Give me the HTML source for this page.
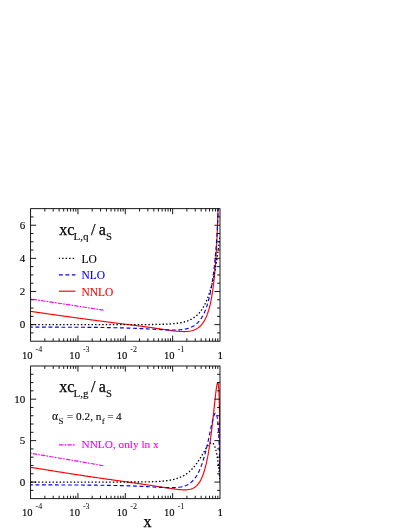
<!DOCTYPE html>
<html><head><meta charset="utf-8"><title>c_L</title>
<style>html,body{margin:0;padding:0;background:#fff}svg{display:block;will-change:transform}text{font-family:"Liberation Serif",serif;paint-order:stroke}</style>
</head><body>
<svg width="409" height="529" viewBox="0 0 409 529">
<rect width="409" height="529" fill="#fff"/>
<defs><clipPath id="c1"><rect x="30.6" y="208.65" width="189.40" height="132.55"/></clipPath><clipPath id="c2"><rect x="30.6" y="366.0" width="189.40" height="132.65"/></clipPath></defs>
<path d="M30.60,311.35 L31.70,311.51 L32.80,311.67 L33.91,311.83 L35.01,311.99 L36.11,312.15 L37.21,312.31 L38.31,312.47 L39.41,312.63 L40.52,312.78 L41.62,312.94 L42.72,313.10 L43.82,313.26 L44.92,313.42 L46.03,313.58 L47.13,313.73 L48.23,313.89 L49.33,314.05 L50.43,314.21 L51.54,314.36 L52.64,314.52 L53.74,314.68 L54.84,314.83 L55.94,314.99 L57.04,315.14 L58.15,315.30 L59.25,315.46 L60.35,315.61 L61.45,315.77 L62.55,315.92 L63.66,316.07 L64.76,316.23 L65.86,316.38 L66.96,316.54 L68.06,316.69 L69.16,316.84 L70.27,317.00 L71.37,317.15 L72.47,317.30 L73.57,317.45 L74.67,317.60 L75.78,317.75 L76.88,317.91 L77.98,318.06 L79.08,318.21 L80.18,318.36 L81.29,318.51 L82.39,318.66 L83.49,318.80 L84.59,318.95 L85.69,319.10 L86.79,319.25 L87.90,319.40 L89.00,319.54 L90.10,319.69 L91.20,319.84 L92.30,319.98 L93.41,320.13 L94.51,320.27 L95.61,320.42 L96.71,320.56 L97.81,320.71 L98.92,320.85 L100.02,321.00 L101.12,321.14 L102.22,321.28 L103.32,321.43 L104.42,321.57 L105.53,321.71 L106.63,321.85 L107.73,321.99 L108.83,322.14 L109.93,322.28 L111.04,322.42 L112.14,322.56 L113.24,322.70 L114.34,322.84 L115.44,322.98 L116.54,323.12 L117.65,323.26 L118.75,323.39 L119.85,323.53 L120.95,323.67 L122.05,323.81 L123.16,323.95 L124.26,324.09 L125.36,324.23 L126.46,324.36 L127.56,324.50 L128.67,324.64 L129.77,324.78 L130.87,324.92 L131.97,325.06 L133.07,325.19 L134.17,325.33 L135.28,325.47 L136.38,325.61 L137.48,325.76 L138.58,325.90 L139.68,326.04 L140.79,326.18 L141.89,326.33 L142.99,326.47 L144.09,326.62 L145.19,326.77 L146.29,326.92 L147.40,327.07 L148.50,327.22 L149.60,327.37 L150.70,327.53 L151.80,327.68 L152.91,327.84 L154.01,328.00 L155.11,328.16 L156.21,328.32 L157.31,328.48 L158.42,328.64 L159.52,328.81 L160.62,328.97 L161.72,329.14 L162.82,329.30 L163.92,329.46 L165.03,329.63 L166.13,329.79 L167.23,329.95 L168.33,330.10 L169.43,330.26 L170.54,330.41 L171.64,330.56 L172.74,330.70 L173.84,330.84 L174.94,330.96 L176.04,331.09 L177.15,331.20 L178.25,331.30 L179.35,331.38 L180.45,331.46 L181.55,331.51 L182.66,331.55 L183.76,331.57 L184.86,331.56 L185.96,331.53 L187.06,331.46 L188.17,331.36 L189.27,331.22 L190.37,331.04 L191.47,330.80 L192.57,330.51 L193.67,330.15 L194.78,329.72 L195.88,329.21 L196.98,328.60 L198.08,327.88 L199.18,327.04 L200.29,326.05 L201.39,324.89 L202.49,323.53 L203.59,321.95 L204.69,320.09 L205.79,317.91 L205.84,317.81 L205.89,317.70 L205.94,317.60 L205.99,317.50 L206.03,317.39 L206.08,317.28 L206.13,317.18 L206.18,317.07 L206.22,316.96 L206.27,316.85 L206.32,316.74 L206.37,316.63 L206.41,316.52 L206.46,316.41 L206.51,316.29 L206.56,316.18 L206.60,316.07 L206.65,315.95 L206.70,315.83 L206.75,315.72 L206.79,315.60 L206.84,315.48 L206.89,315.36 L206.94,315.24 L206.98,315.12 L207.03,314.99 L207.08,314.87 L207.13,314.75 L207.17,314.62 L207.22,314.49 L207.27,314.37 L207.32,314.24 L207.36,314.11 L207.41,313.98 L207.46,313.85 L207.51,313.72 L207.55,313.58 L207.60,313.45 L207.65,313.31 L207.70,313.18 L207.74,313.04 L207.79,312.90 L207.84,312.76 L207.89,312.62 L207.93,312.48 L207.98,312.34 L208.03,312.20 L208.08,312.05 L208.12,311.91 L208.17,311.76 L208.22,311.61 L208.27,311.46 L208.31,311.31 L208.36,311.16 L208.41,311.01 L208.46,310.86 L208.50,310.70 L208.55,310.55 L208.60,310.39 L208.65,310.23 L208.69,310.07 L208.74,309.91 L208.79,309.75 L208.84,309.59 L208.88,309.42 L208.93,309.26 L208.98,309.09 L209.03,308.92 L209.07,308.75 L209.12,308.58 L209.17,308.41 L209.22,308.23 L209.26,308.06 L209.31,307.88 L209.36,307.70 L209.41,307.52 L209.45,307.34 L209.50,307.16 L209.55,306.98 L209.60,306.79 L209.64,306.61 L209.69,306.42 L209.74,306.23 L209.79,306.04 L209.83,305.84 L209.88,305.65 L209.93,305.45 L209.98,305.26 L210.02,305.06 L210.07,304.85 L210.12,304.65 L210.17,304.45 L210.21,304.24 L210.26,304.03 L210.31,303.82 L210.36,303.61 L210.40,303.40 L210.45,303.19 L210.50,302.97 L210.55,302.75 L210.59,302.53 L210.64,302.31 L210.69,302.09 L210.74,301.86 L210.78,301.63 L210.83,301.40 L210.88,301.17 L210.93,300.94 L210.97,300.70 L211.02,300.46 L211.07,300.22 L211.12,299.98 L211.16,299.74 L211.21,299.49 L211.26,299.24 L211.31,298.99 L211.35,298.74 L211.40,298.49 L211.45,298.23 L211.50,297.97 L211.54,297.71 L211.59,297.44 L211.64,297.18 L211.69,296.91 L211.73,296.64 L211.78,296.36 L211.83,296.09 L211.88,295.81 L211.93,295.53 L211.97,295.24 L212.02,294.96 L212.07,294.67 L212.12,294.37 L212.16,294.08 L212.21,293.78 L212.26,293.48 L212.31,293.18 L212.35,292.87 L212.40,292.56 L212.45,292.25 L212.50,291.94 L212.54,291.62 L212.59,291.30 L212.64,290.98 L212.69,290.65 L212.73,290.32 L212.78,289.99 L212.83,289.65 L212.88,289.31 L212.92,288.97 L212.97,288.62 L213.02,288.27 L213.07,287.92 L213.11,287.56 L213.16,287.20 L213.21,286.84 L213.26,286.47 L213.30,286.10 L213.35,285.72 L213.40,285.34 L213.45,284.96 L213.49,284.57 L213.54,284.18 L213.59,283.79 L213.64,283.39 L213.68,282.98 L213.73,282.58 L213.78,282.16 L213.83,281.75 L213.87,281.33 L213.92,280.90 L213.97,280.47 L214.02,280.04 L214.06,279.60 L214.11,279.15 L214.16,278.70 L214.21,278.25 L214.25,277.79 L214.30,277.32 L214.35,276.85 L214.40,276.38 L214.44,275.90 L214.49,275.41 L214.54,274.92 L214.59,274.42 L214.63,273.92 L214.68,273.41 L214.73,272.89 L214.78,272.37 L214.82,271.85 L214.87,271.31 L214.92,270.77 L214.97,270.22 L215.01,269.67 L215.06,269.11 L215.11,268.54 L215.16,267.97 L215.20,267.38 L215.25,266.80 L215.30,266.20 L215.35,265.59 L215.39,264.98 L215.44,264.36 L215.49,263.73 L215.54,263.09 L215.58,262.45 L215.63,261.79 L215.68,261.13 L215.73,260.46 L215.77,259.77 L215.82,259.08 L215.87,258.38 L215.92,257.67 L215.96,256.95 L216.01,256.22 L216.06,255.47 L216.11,254.72 L216.15,253.95 L216.20,253.18 L216.25,252.39 L216.30,251.59 L216.34,250.77 L216.39,249.95 L216.44,249.11 L216.49,248.25 L216.53,247.39 L216.58,246.51 L216.63,245.61 L216.68,244.70 L216.72,243.77 L216.77,242.83 L216.82,241.87 L216.87,240.89 L216.91,239.90 L216.96,238.88 L217.01,237.85 L217.06,236.80 L217.10,235.73 L217.15,234.64 L217.20,233.52 L217.25,232.39 L217.29,231.23 L217.34,230.05 L217.39,228.84 L217.44,227.60 L217.48,226.34 L217.53,225.05 L217.58,223.73 L217.63,222.39 L217.67,221.00 L217.72,219.59 L217.77,218.14 L217.82,216.66 L217.87,215.13 L217.91,213.57 L217.96,211.96 L218.01,210.31 L218.06,208.62 L218.10,206.87 L218.15,205.07 L218.20,203.22 L218.25,201.31 L218.29,199.33 L218.34,197.29 L218.39,195.19 L218.44,193.00 L218.48,190.74 L218.53,188.39 L218.58,185.95 L218.63,183.41 L218.67,180.76 L218.72,177.99 L218.77,175.10 L218.82,172.07 L218.86,168.89 L218.91,165.55 L218.96,162.02 L219.01,158.29 L219.05,154.33 L219.06,153.66 L219.07,152.98 L219.08,152.29 L219.08,151.59 L219.09,150.88 L219.10,150.17 L219.11,149.45 L219.12,148.72 L219.12,147.99 L219.13,147.24 L219.14,146.49 L219.15,145.73 L219.15,144.96 L219.16,144.18 L219.17,143.39 L219.18,142.59 L219.19,141.78 L219.19,140.97 L219.20,140.14 L219.21,139.30 L219.22,138.46 L219.23,137.60 L219.23,136.73 L219.24,135.85 L219.25,134.95 L219.26,134.05 L219.26,133.13 L219.27,132.21 L219.28,131.27 L219.29,130.31 L219.30,129.34 L219.30,128.36 L219.31,127.37 L219.32,126.36 L219.33,125.33 L219.34,124.29 L219.34,123.24 L219.35,122.17 L219.36,121.08 L219.37,119.97 L219.37,118.85 L219.38,117.71 L219.39,116.55 L219.40,115.37 L219.41,114.18 L219.41,112.96 L219.42,111.72 L219.43,110.46 L219.44,109.17 L219.44,107.87 L219.45,106.53 L219.46,105.18 L219.47,103.80 L219.48,102.39 L219.48,100.96 L219.49,99.49 L219.50,98.00 L219.51,96.48 L219.52,94.92 L219.52,93.34 L219.53,91.71 L219.54,90.06 L219.55,88.36 L219.55,86.63 L219.56,84.86 L219.57,83.04 L219.58,81.19 L219.59,79.28 L219.59,77.33 L219.60,75.33 L219.61,73.28 L219.62,71.17 L219.63,69.01 L219.63,66.79 L219.64,64.50 L219.65,62.15 L219.66,59.72 L219.66,57.23 L219.67,54.65 L219.68,52.00 L219.69,49.25 L219.70,46.42 L219.70,43.49 L219.71,40.45 L219.72,37.30 L219.73,34.04 L219.73,30.65 L219.74,27.12 L219.75,23.45 L219.76,19.62 L219.77,15.63 L219.77,11.45 L219.78,7.08 L219.79,2.50 L219.80,-2.32 L219.81,-7.39 L219.81,-12.74 L219.82,-18.39 L219.83,-24.39 L219.84,-30.75 L219.84,-37.54 L219.85,-44.80 L219.86,-52.58 L219.87,-60.97 L219.88,-70.05 L219.88,-79.92 L219.89,-90.72 L219.90,-102.61 L219.91,-115.79 L219.92,-130.53 L219.92,-147.20 L219.93,-166.27 L219.94,-188.44 L219.95,-214.69 L219.95,-246.56 L219.96,-286.57 L219.97,-339.23 L219.98,-413.83 L219.99,-534.06" fill="none" stroke="#ff0000" stroke-width="1.15" stroke-linecap="butt" stroke-linejoin="round" clip-path="url(#c1)"/>
<path d="M30.60,327.15 L31.70,327.15 L32.80,327.15 L33.91,327.15 L35.01,327.15 L36.11,327.15 L37.21,327.16 L38.31,327.16 L39.41,327.16 L40.52,327.16 L41.62,327.16 L42.72,327.16 L43.82,327.16 L44.92,327.16 L46.03,327.17 L47.13,327.17 L48.23,327.17 L49.33,327.17 L50.43,327.17 L51.54,327.18 L52.64,327.18 L53.74,327.18 L54.84,327.18 L55.94,327.18 L57.04,327.19 L58.15,327.19 L59.25,327.19 L60.35,327.20 L61.45,327.20 L62.55,327.20 L63.66,327.21 L64.76,327.21 L65.86,327.21 L66.96,327.22 L68.06,327.22 L69.16,327.23 L70.27,327.23 L71.37,327.23 L72.47,327.24 L73.57,327.24 L74.67,327.25 L75.78,327.25 L76.88,327.26 L77.98,327.27 L79.08,327.27 L80.18,327.28 L81.29,327.29 L82.39,327.29 L83.49,327.30 L84.59,327.31 L85.69,327.32 L86.79,327.33 L87.90,327.33 L89.00,327.34 L90.10,327.35 L91.20,327.36 L92.30,327.37 L93.41,327.39 L94.51,327.40 L95.61,327.41 L96.71,327.42 L97.81,327.43 L98.92,327.45 L100.02,327.46 L101.12,327.48 L102.22,327.49 L103.32,327.51 L104.42,327.53 L105.53,327.54 L106.63,327.56 L107.73,327.58 L108.83,327.60 L109.93,327.62 L111.04,327.64 L112.14,327.66 L113.24,327.68 L114.34,327.71 L115.44,327.73 L116.54,327.76 L117.65,327.78 L118.75,327.81 L119.85,327.84 L120.95,327.87 L122.05,327.90 L123.16,327.93 L124.26,327.96 L125.36,328.00 L126.46,328.03 L127.56,328.07 L128.67,328.10 L129.77,328.14 L130.87,328.18 L131.97,328.22 L133.07,328.26 L134.17,328.30 L135.28,328.35 L136.38,328.39 L137.48,328.44 L138.58,328.49 L139.68,328.54 L140.79,328.59 L141.89,328.64 L142.99,328.69 L144.09,328.74 L145.19,328.80 L146.29,328.85 L147.40,328.91 L148.50,328.97 L149.60,329.02 L150.70,329.08 L151.80,329.14 L152.91,329.20 L154.01,329.26 L155.11,329.32 L156.21,329.38 L157.31,329.44 L158.42,329.49 L159.52,329.55 L160.62,329.61 L161.72,329.66 L162.82,329.71 L163.92,329.76 L165.03,329.81 L166.13,329.85 L167.23,329.89 L168.33,329.93 L169.43,329.96 L170.54,329.98 L171.64,329.99 L172.74,330.00 L173.84,330.00 L174.94,329.99 L176.04,329.97 L177.15,329.93 L178.25,329.88 L179.35,329.81 L180.45,329.72 L181.55,329.61 L182.66,329.48 L183.76,329.32 L184.86,329.13 L185.96,328.90 L187.06,328.64 L188.17,328.33 L189.27,327.98 L190.37,327.57 L191.47,327.09 L192.57,326.55 L193.67,325.92 L194.78,325.21 L195.88,324.39 L196.98,323.46 L198.08,322.39 L199.18,321.17 L200.29,319.78 L201.39,318.19 L202.49,316.37 L203.59,314.29 L204.69,311.90 L205.79,309.17 L205.84,309.04 L205.89,308.91 L205.94,308.78 L205.99,308.65 L206.03,308.52 L206.08,308.39 L206.13,308.26 L206.18,308.13 L206.22,308.00 L206.27,307.86 L206.32,307.73 L206.37,307.59 L206.41,307.46 L206.46,307.32 L206.51,307.18 L206.56,307.04 L206.60,306.90 L206.65,306.76 L206.70,306.62 L206.75,306.48 L206.79,306.34 L206.84,306.19 L206.89,306.05 L206.94,305.90 L206.98,305.76 L207.03,305.61 L207.08,305.46 L207.13,305.31 L207.17,305.16 L207.22,305.01 L207.27,304.86 L207.32,304.70 L207.36,304.55 L207.41,304.40 L207.46,304.24 L207.51,304.08 L207.55,303.93 L207.60,303.77 L207.65,303.61 L207.70,303.45 L207.74,303.28 L207.79,303.12 L207.84,302.96 L207.89,302.79 L207.93,302.63 L207.98,302.46 L208.03,302.29 L208.08,302.12 L208.12,301.95 L208.17,301.78 L208.22,301.61 L208.27,301.44 L208.31,301.26 L208.36,301.09 L208.41,300.91 L208.46,300.73 L208.50,300.56 L208.55,300.38 L208.60,300.19 L208.65,300.01 L208.69,299.83 L208.74,299.64 L208.79,299.46 L208.84,299.27 L208.88,299.08 L208.93,298.90 L208.98,298.70 L209.03,298.51 L209.07,298.32 L209.12,298.13 L209.17,297.93 L209.22,297.73 L209.26,297.54 L209.31,297.34 L209.36,297.14 L209.41,296.94 L209.45,296.73 L209.50,296.53 L209.55,296.32 L209.60,296.12 L209.64,295.91 L209.69,295.70 L209.74,295.49 L209.79,295.27 L209.83,295.06 L209.88,294.85 L209.93,294.63 L209.98,294.41 L210.02,294.19 L210.07,293.97 L210.12,293.75 L210.17,293.52 L210.21,293.30 L210.26,293.07 L210.31,292.84 L210.36,292.61 L210.40,292.38 L210.45,292.15 L210.50,291.92 L210.55,291.68 L210.59,291.44 L210.64,291.20 L210.69,290.96 L210.74,290.72 L210.78,290.48 L210.83,290.23 L210.88,289.98 L210.93,289.73 L210.97,289.48 L211.02,289.23 L211.07,288.98 L211.12,288.72 L211.16,288.46 L211.21,288.20 L211.26,287.94 L211.31,287.68 L211.35,287.41 L211.40,287.15 L211.45,286.88 L211.50,286.61 L211.54,286.34 L211.59,286.06 L211.64,285.79 L211.69,285.51 L211.73,285.23 L211.78,284.95 L211.83,284.66 L211.88,284.38 L211.93,284.09 L211.97,283.80 L212.02,283.51 L212.07,283.21 L212.12,282.91 L212.16,282.62 L212.21,282.32 L212.26,282.01 L212.31,281.71 L212.35,281.40 L212.40,281.09 L212.45,280.78 L212.50,280.47 L212.54,280.15 L212.59,279.83 L212.64,279.51 L212.69,279.19 L212.73,278.86 L212.78,278.53 L212.83,278.20 L212.88,277.87 L212.92,277.53 L212.97,277.19 L213.02,276.85 L213.07,276.51 L213.11,276.16 L213.16,275.81 L213.21,275.46 L213.26,275.11 L213.30,274.75 L213.35,274.39 L213.40,274.03 L213.45,273.66 L213.49,273.30 L213.54,272.93 L213.59,272.55 L213.64,272.17 L213.68,271.79 L213.73,271.41 L213.78,271.02 L213.83,270.64 L213.87,270.24 L213.92,269.85 L213.97,269.45 L214.02,269.05 L214.06,268.64 L214.11,268.23 L214.16,267.82 L214.21,267.40 L214.25,266.98 L214.30,266.56 L214.35,266.13 L214.40,265.70 L214.44,265.27 L214.49,264.83 L214.54,264.39 L214.59,263.94 L214.63,263.50 L214.68,263.04 L214.73,262.58 L214.78,262.12 L214.82,261.66 L214.87,261.19 L214.92,260.71 L214.97,260.23 L215.01,259.75 L215.06,259.26 L215.11,258.77 L215.16,258.27 L215.20,257.77 L215.25,257.27 L215.30,256.76 L215.35,256.24 L215.39,255.72 L215.44,255.19 L215.49,254.66 L215.54,254.12 L215.58,253.58 L215.63,253.03 L215.68,252.48 L215.73,251.92 L215.77,251.35 L215.82,250.78 L215.87,250.21 L215.92,249.62 L215.96,249.03 L216.01,248.44 L216.06,247.83 L216.11,247.22 L216.15,246.61 L216.20,245.98 L216.25,245.35 L216.30,244.71 L216.34,244.07 L216.39,243.42 L216.44,242.75 L216.49,242.09 L216.53,241.41 L216.58,240.72 L216.63,240.03 L216.68,239.32 L216.72,238.61 L216.77,237.89 L216.82,237.16 L216.87,236.42 L216.91,235.67 L216.96,234.90 L217.01,234.13 L217.06,233.35 L217.10,232.55 L217.15,231.75 L217.20,230.93 L217.25,230.10 L217.29,229.25 L217.34,228.39 L217.39,227.52 L217.44,226.64 L217.48,225.74 L217.53,224.82 L217.58,223.89 L217.63,222.94 L217.67,221.98 L217.72,220.99 L217.77,219.99 L217.82,218.97 L217.87,217.93 L217.91,216.87 L217.96,215.79 L218.01,214.68 L218.06,213.55 L218.10,212.40 L218.15,211.22 L218.20,210.01 L218.25,208.77 L218.29,207.50 L218.34,206.20 L218.39,204.86 L218.44,203.49 L218.48,202.08 L218.53,200.63 L218.58,199.13 L218.63,197.59 L218.67,196.00 L218.72,194.35 L218.77,192.64 L218.82,190.87 L218.86,189.04 L218.91,187.13 L218.96,185.13 L219.01,183.05 L219.05,180.87 L219.06,180.50 L219.07,180.13 L219.08,179.76 L219.08,179.38 L219.09,179.00 L219.10,178.61 L219.11,178.22 L219.12,177.83 L219.12,177.43 L219.13,177.04 L219.14,176.63 L219.15,176.23 L219.15,175.82 L219.16,175.41 L219.17,174.99 L219.18,174.57 L219.19,174.14 L219.19,173.71 L219.20,173.28 L219.21,172.84 L219.22,172.40 L219.23,171.96 L219.23,171.51 L219.24,171.05 L219.25,170.59 L219.26,170.13 L219.26,169.66 L219.27,169.18 L219.28,168.70 L219.29,168.22 L219.30,167.73 L219.30,167.23 L219.31,166.73 L219.32,166.22 L219.33,165.71 L219.34,165.19 L219.34,164.67 L219.35,164.13 L219.36,163.60 L219.37,163.05 L219.37,162.50 L219.38,161.94 L219.39,161.38 L219.40,160.80 L219.41,160.22 L219.41,159.63 L219.42,159.04 L219.43,158.43 L219.44,157.82 L219.44,157.19 L219.45,156.56 L219.46,155.92 L219.47,155.27 L219.48,154.61 L219.48,153.94 L219.49,153.26 L219.50,152.57 L219.51,151.86 L219.52,151.15 L219.52,150.42 L219.53,149.68 L219.54,148.93 L219.55,148.16 L219.55,147.38 L219.56,146.59 L219.57,145.78 L219.58,144.95 L219.59,144.11 L219.59,143.25 L219.60,142.37 L219.61,141.48 L219.62,140.57 L219.63,139.63 L219.63,138.68 L219.64,137.70 L219.65,136.70 L219.66,135.68 L219.66,134.63 L219.67,133.56 L219.68,132.45 L219.69,131.32 L219.70,130.16 L219.70,128.97 L219.71,127.74 L219.72,126.47 L219.73,125.17 L219.73,123.82 L219.74,122.43 L219.75,121.00 L219.76,119.51 L219.77,117.97 L219.77,116.38 L219.78,114.72 L219.79,113.00 L219.80,111.20 L219.81,109.33 L219.81,107.38 L219.82,105.33 L219.83,103.18 L219.84,100.92 L219.84,98.54 L219.85,96.02 L219.86,93.34 L219.87,90.50 L219.88,87.47 L219.88,84.21 L219.89,80.70 L219.90,76.90 L219.91,72.75 L219.92,68.19 L219.92,63.14 L219.93,57.48 L219.94,51.05 L219.95,43.63 L219.95,34.88 L219.96,24.26 L219.97,10.83 L219.98,-7.26 L219.99,-34.53" fill="none" stroke="#0000ff" stroke-width="1.15" stroke-linecap="butt" stroke-linejoin="round" stroke-dasharray="3.9 2.6" stroke-dashoffset="1.65" clip-path="url(#c1)"/>
<path d="M30.60,324.63 L31.70,324.63 L32.80,324.63 L33.91,324.63 L35.01,324.63 L36.11,324.63 L37.21,324.63 L38.31,324.63 L39.41,324.63 L40.52,324.63 L41.62,324.63 L42.72,324.63 L43.82,324.63 L44.92,324.63 L46.03,324.63 L47.13,324.63 L48.23,324.63 L49.33,324.63 L50.43,324.63 L51.54,324.63 L52.64,324.63 L53.74,324.63 L54.84,324.63 L55.94,324.63 L57.04,324.63 L58.15,324.63 L59.25,324.63 L60.35,324.63 L61.45,324.63 L62.55,324.63 L63.66,324.63 L64.76,324.63 L65.86,324.63 L66.96,324.63 L68.06,324.63 L69.16,324.63 L70.27,324.63 L71.37,324.63 L72.47,324.63 L73.57,324.63 L74.67,324.63 L75.78,324.63 L76.88,324.63 L77.98,324.63 L79.08,324.63 L80.18,324.63 L81.29,324.63 L82.39,324.63 L83.49,324.63 L84.59,324.63 L85.69,324.63 L86.79,324.63 L87.90,324.63 L89.00,324.63 L90.10,324.63 L91.20,324.63 L92.30,324.63 L93.41,324.63 L94.51,324.63 L95.61,324.63 L96.71,324.63 L97.81,324.63 L98.92,324.63 L100.02,324.63 L101.12,324.63 L102.22,324.63 L103.32,324.63 L104.42,324.63 L105.53,324.63 L106.63,324.63 L107.73,324.63 L108.83,324.63 L109.93,324.63 L111.04,324.63 L112.14,324.63 L113.24,324.63 L114.34,324.63 L115.44,324.63 L116.54,324.63 L117.65,324.63 L118.75,324.63 L119.85,324.63 L120.95,324.63 L122.05,324.62 L123.16,324.62 L124.26,324.62 L125.36,324.62 L126.46,324.62 L127.56,324.62 L128.67,324.62 L129.77,324.62 L130.87,324.62 L131.97,324.61 L133.07,324.61 L134.17,324.61 L135.28,324.61 L136.38,324.61 L137.48,324.60 L138.58,324.60 L139.68,324.60 L140.79,324.59 L141.89,324.59 L142.99,324.58 L144.09,324.58 L145.19,324.57 L146.29,324.56 L147.40,324.56 L148.50,324.55 L149.60,324.54 L150.70,324.53 L151.80,324.51 L152.91,324.50 L154.01,324.49 L155.11,324.47 L156.21,324.45 L157.31,324.43 L158.42,324.41 L159.52,324.38 L160.62,324.36 L161.72,324.33 L162.82,324.29 L163.92,324.25 L165.03,324.21 L166.13,324.16 L167.23,324.11 L168.33,324.05 L169.43,323.98 L170.54,323.91 L171.64,323.83 L172.74,323.74 L173.84,323.64 L174.94,323.53 L176.04,323.40 L177.15,323.26 L178.25,323.11 L179.35,322.94 L180.45,322.74 L181.55,322.53 L182.66,322.29 L183.76,322.03 L184.86,321.73 L185.96,321.41 L187.06,321.04 L188.17,320.64 L189.27,320.18 L190.37,319.68 L191.47,319.12 L192.57,318.50 L193.67,317.80 L194.78,317.03 L195.88,316.17 L196.98,315.21 L198.08,314.15 L199.18,312.96 L200.29,311.64 L201.39,310.17 L202.49,308.54 L203.59,306.72 L204.69,304.69 L205.79,302.43 L205.84,302.33 L205.89,302.23 L205.94,302.12 L205.99,302.02 L206.03,301.92 L206.08,301.81 L206.13,301.70 L206.18,301.60 L206.22,301.49 L206.27,301.38 L206.32,301.28 L206.37,301.17 L206.41,301.06 L206.46,300.95 L206.51,300.84 L206.56,300.73 L206.60,300.62 L206.65,300.51 L206.70,300.40 L206.75,300.29 L206.79,300.17 L206.84,300.06 L206.89,299.95 L206.94,299.83 L206.98,299.72 L207.03,299.60 L207.08,299.48 L207.13,299.37 L207.17,299.25 L207.22,299.13 L207.27,299.02 L207.32,298.90 L207.36,298.78 L207.41,298.66 L207.46,298.54 L207.51,298.42 L207.55,298.30 L207.60,298.17 L207.65,298.05 L207.70,297.93 L207.74,297.80 L207.79,297.68 L207.84,297.55 L207.89,297.43 L207.93,297.30 L207.98,297.18 L208.03,297.05 L208.08,296.92 L208.12,296.79 L208.17,296.66 L208.22,296.53 L208.27,296.40 L208.31,296.27 L208.36,296.14 L208.41,296.01 L208.46,295.88 L208.50,295.74 L208.55,295.61 L208.60,295.48 L208.65,295.34 L208.69,295.21 L208.74,295.07 L208.79,294.93 L208.84,294.79 L208.88,294.66 L208.93,294.52 L208.98,294.38 L209.03,294.24 L209.07,294.10 L209.12,293.96 L209.17,293.81 L209.22,293.67 L209.26,293.53 L209.31,293.38 L209.36,293.24 L209.41,293.09 L209.45,292.95 L209.50,292.80 L209.55,292.65 L209.60,292.50 L209.64,292.36 L209.69,292.21 L209.74,292.06 L209.79,291.91 L209.83,291.75 L209.88,291.60 L209.93,291.45 L209.98,291.29 L210.02,291.14 L210.07,290.99 L210.12,290.83 L210.17,290.67 L210.21,290.52 L210.26,290.36 L210.31,290.20 L210.36,290.04 L210.40,289.88 L210.45,289.72 L210.50,289.56 L210.55,289.39 L210.59,289.23 L210.64,289.07 L210.69,288.90 L210.74,288.74 L210.78,288.57 L210.83,288.40 L210.88,288.24 L210.93,288.07 L210.97,287.90 L211.02,287.73 L211.07,287.56 L211.12,287.38 L211.16,287.21 L211.21,287.04 L211.26,286.86 L211.31,286.69 L211.35,286.51 L211.40,286.34 L211.45,286.16 L211.50,285.98 L211.54,285.80 L211.59,285.62 L211.64,285.44 L211.69,285.26 L211.73,285.08 L211.78,284.89 L211.83,284.71 L211.88,284.53 L211.93,284.34 L211.97,284.15 L212.02,283.97 L212.07,283.78 L212.12,283.59 L212.16,283.40 L212.21,283.21 L212.26,283.01 L212.31,282.82 L212.35,282.63 L212.40,282.43 L212.45,282.24 L212.50,282.04 L212.54,281.84 L212.59,281.65 L212.64,281.45 L212.69,281.25 L212.73,281.05 L212.78,280.84 L212.83,280.64 L212.88,280.44 L212.92,280.23 L212.97,280.03 L213.02,279.82 L213.07,279.61 L213.11,279.40 L213.16,279.20 L213.21,278.98 L213.26,278.77 L213.30,278.56 L213.35,278.35 L213.40,278.13 L213.45,277.92 L213.49,277.70 L213.54,277.48 L213.59,277.27 L213.64,277.05 L213.68,276.83 L213.73,276.60 L213.78,276.38 L213.83,276.16 L213.87,275.93 L213.92,275.71 L213.97,275.48 L214.02,275.25 L214.06,275.03 L214.11,274.80 L214.16,274.56 L214.21,274.33 L214.25,274.10 L214.30,273.87 L214.35,273.63 L214.40,273.39 L214.44,273.16 L214.49,272.92 L214.54,272.68 L214.59,272.44 L214.63,272.20 L214.68,271.95 L214.73,271.71 L214.78,271.46 L214.82,271.22 L214.87,270.97 L214.92,270.72 L214.97,270.47 L215.01,270.22 L215.06,269.97 L215.11,269.72 L215.16,269.46 L215.20,269.21 L215.25,268.95 L215.30,268.69 L215.35,268.43 L215.39,268.17 L215.44,267.91 L215.49,267.65 L215.54,267.38 L215.58,267.12 L215.63,266.85 L215.68,266.58 L215.73,266.32 L215.77,266.05 L215.82,265.77 L215.87,265.50 L215.92,265.23 L215.96,264.95 L216.01,264.68 L216.06,264.40 L216.11,264.12 L216.15,263.84 L216.20,263.56 L216.25,263.27 L216.30,262.99 L216.34,262.70 L216.39,262.42 L216.44,262.13 L216.49,261.84 L216.53,261.55 L216.58,261.26 L216.63,260.96 L216.68,260.67 L216.72,260.37 L216.77,260.07 L216.82,259.78 L216.87,259.47 L216.91,259.17 L216.96,258.87 L217.01,258.56 L217.06,258.26 L217.10,257.95 L217.15,257.64 L217.20,257.33 L217.25,257.02 L217.29,256.71 L217.34,256.39 L217.39,256.08 L217.44,255.76 L217.48,255.44 L217.53,255.12 L217.58,254.80 L217.63,254.47 L217.67,254.15 L217.72,253.82 L217.77,253.49 L217.82,253.16 L217.87,252.83 L217.91,252.50 L217.96,252.17 L218.01,251.83 L218.06,251.49 L218.10,251.16 L218.15,250.81 L218.20,250.47 L218.25,250.13 L218.29,249.78 L218.34,249.44 L218.39,249.09 L218.44,248.74 L218.48,248.39 L218.53,248.03 L218.58,247.68 L218.63,247.32 L218.67,246.97 L218.72,246.61 L218.77,246.24 L218.82,245.88 L218.86,245.52 L218.91,245.15 L218.96,244.78 L219.01,244.41 L219.05,244.04 L219.06,243.98 L219.07,243.92 L219.08,243.86 L219.08,243.79 L219.09,243.73 L219.10,243.67 L219.11,243.61 L219.12,243.55 L219.12,243.49 L219.13,243.42 L219.14,243.36 L219.15,243.30 L219.15,243.24 L219.16,243.18 L219.17,243.11 L219.18,243.05 L219.19,242.99 L219.19,242.93 L219.20,242.86 L219.21,242.80 L219.22,242.74 L219.23,242.68 L219.23,242.61 L219.24,242.55 L219.25,242.49 L219.26,242.43 L219.26,242.36 L219.27,242.30 L219.28,242.24 L219.29,242.18 L219.30,242.11 L219.30,242.05 L219.31,241.99 L219.32,241.92 L219.33,241.86 L219.34,241.80 L219.34,241.73 L219.35,241.67 L219.36,241.61 L219.37,241.54 L219.37,241.48 L219.38,241.42 L219.39,241.35 L219.40,241.29 L219.41,241.23 L219.41,241.16 L219.42,241.10 L219.43,241.04 L219.44,240.97 L219.44,240.91 L219.45,240.84 L219.46,240.78 L219.47,240.72 L219.48,240.65 L219.48,240.59 L219.49,240.52 L219.50,240.46 L219.51,240.40 L219.52,240.33 L219.52,240.27 L219.53,240.20 L219.54,240.14 L219.55,240.07 L219.55,240.01 L219.56,239.95 L219.57,239.88 L219.58,239.82 L219.59,239.75 L219.59,239.69 L219.60,239.62 L219.61,239.56 L219.62,239.49 L219.63,239.43 L219.63,239.36 L219.64,239.30 L219.65,239.23 L219.66,239.17 L219.66,239.10 L219.67,239.04 L219.68,238.97 L219.69,238.91 L219.70,238.84 L219.70,238.78 L219.71,238.71 L219.72,238.64 L219.73,238.58 L219.73,238.51 L219.74,238.45 L219.75,238.38 L219.76,238.32 L219.77,238.25 L219.77,238.18 L219.78,238.12 L219.79,238.05 L219.80,237.99 L219.81,237.92 L219.81,237.85 L219.82,237.79 L219.83,237.72 L219.84,237.66 L219.84,237.59 L219.85,237.52 L219.86,237.46 L219.87,237.39 L219.88,237.32 L219.88,237.26 L219.89,237.19 L219.90,237.12 L219.91,237.06 L219.92,236.99 L219.92,236.92 L219.93,236.86 L219.94,236.79 L219.95,236.72 L219.95,236.66 L219.96,236.59 L219.97,236.52 L219.98,236.45 L219.99,236.39 L220.00,236.26" fill="none" stroke="#000" stroke-width="1.35" stroke-linecap="butt" stroke-linejoin="round" stroke-dasharray="1.45 2.1" stroke-dashoffset="2.95" clip-path="url(#c1)"/>
<path d="M30.60,299.01 L32.47,299.29 L34.35,299.57 L36.22,299.85 L38.10,300.13 L39.97,300.41 L41.85,300.69 L43.72,300.97 L45.60,301.25 L47.47,301.53 L49.35,301.82 L51.22,302.10 L53.10,302.38 L54.97,302.66 L56.85,302.95 L58.72,303.23 L60.59,303.51 L62.47,303.80 L64.34,304.08 L66.22,304.37 L68.09,304.65 L69.97,304.94 L71.84,305.22 L73.72,305.51 L75.59,305.80 L77.47,306.09 L79.34,306.38 L81.22,306.67 L83.09,306.96 L84.97,307.25 L86.84,307.54 L88.71,307.84 L90.59,308.13 L92.46,308.43 L94.34,308.72 L96.21,309.02 L98.09,309.32 L99.96,309.63 L101.84,309.93 L103.71,310.24" fill="none" stroke="#ff00ff" stroke-width="1.15" stroke-linecap="butt" stroke-linejoin="round" stroke-dasharray="4.4 1.2 1.6 1.2" stroke-dashoffset="6.2" clip-path="url(#c1)"/>
<path d="M30.60,467.29 L31.70,467.47 L32.80,467.65 L33.91,467.83 L35.01,468.01 L36.11,468.19 L37.21,468.37 L38.31,468.55 L39.41,468.72 L40.52,468.90 L41.62,469.08 L42.72,469.26 L43.82,469.44 L44.92,469.62 L46.03,469.79 L47.13,469.97 L48.23,470.15 L49.33,470.33 L50.43,470.50 L51.54,470.68 L52.64,470.86 L53.74,471.03 L54.84,471.21 L55.94,471.38 L57.04,471.56 L58.15,471.73 L59.25,471.91 L60.35,472.08 L61.45,472.26 L62.55,472.43 L63.66,472.60 L64.76,472.78 L65.86,472.95 L66.96,473.12 L68.06,473.29 L69.16,473.47 L70.27,473.64 L71.37,473.81 L72.47,473.98 L73.57,474.15 L74.67,474.32 L75.78,474.49 L76.88,474.66 L77.98,474.83 L79.08,475.00 L80.18,475.16 L81.29,475.33 L82.39,475.50 L83.49,475.67 L84.59,475.83 L85.69,476.00 L86.79,476.16 L87.90,476.33 L89.00,476.49 L90.10,476.66 L91.20,476.82 L92.30,476.98 L93.41,477.15 L94.51,477.31 L95.61,477.47 L96.71,477.63 L97.81,477.79 L98.92,477.95 L100.02,478.11 L101.12,478.27 L102.22,478.43 L103.32,478.59 L104.42,478.75 L105.53,478.91 L106.63,479.07 L107.73,479.22 L108.83,479.38 L109.93,479.54 L111.04,479.69 L112.14,479.85 L113.24,480.01 L114.34,480.16 L115.44,480.32 L116.54,480.47 L117.65,480.63 L118.75,480.78 L119.85,480.94 L120.95,481.09 L122.05,481.25 L123.16,481.40 L124.26,481.55 L125.36,481.71 L126.46,481.86 L127.56,482.02 L128.67,482.17 L129.77,482.33 L130.87,482.48 L131.97,482.64 L133.07,482.79 L134.17,482.95 L135.28,483.11 L136.38,483.26 L137.48,483.42 L138.58,483.58 L139.68,483.74 L140.79,483.90 L141.89,484.06 L142.99,484.22 L144.09,484.38 L145.19,484.54 L146.29,484.71 L147.40,484.87 L148.50,485.04 L149.60,485.20 L150.70,485.37 L151.80,485.54 L152.91,485.70 L154.01,485.87 L155.11,486.04 L156.21,486.22 L157.31,486.39 L158.42,486.56 L159.52,486.73 L160.62,486.91 L161.72,487.08 L162.82,487.25 L163.92,487.43 L165.03,487.60 L166.13,487.77 L167.23,487.94 L168.33,488.11 L169.43,488.28 L170.54,488.45 L171.64,488.61 L172.74,488.77 L173.84,488.92 L174.94,489.07 L176.04,489.21 L177.15,489.35 L178.25,489.47 L179.35,489.58 L180.45,489.68 L181.55,489.76 L182.66,489.81 L183.76,489.85 L184.86,489.85 L185.96,489.82 L187.06,489.75 L188.17,489.63 L189.27,489.45 L190.37,489.21 L191.47,488.88 L192.57,488.46 L193.67,487.92 L194.78,487.25 L195.88,486.42 L196.98,485.40 L198.08,484.17 L199.18,482.68 L200.29,480.89 L201.39,478.75 L202.49,476.21 L203.59,473.21 L204.69,469.67 L205.79,465.52 L205.84,465.32 L205.89,465.13 L205.94,464.93 L205.99,464.73 L206.03,464.53 L206.08,464.33 L206.13,464.13 L206.18,463.93 L206.22,463.72 L206.27,463.52 L206.32,463.31 L206.37,463.10 L206.41,462.89 L206.46,462.68 L206.51,462.47 L206.56,462.25 L206.60,462.04 L206.65,461.82 L206.70,461.60 L206.75,461.38 L206.79,461.16 L206.84,460.94 L206.89,460.72 L206.94,460.49 L206.98,460.27 L207.03,460.04 L207.08,459.81 L207.13,459.58 L207.17,459.34 L207.22,459.11 L207.27,458.88 L207.32,458.64 L207.36,458.40 L207.41,458.16 L207.46,457.92 L207.51,457.68 L207.55,457.43 L207.60,457.19 L207.65,456.94 L207.70,456.69 L207.74,456.44 L207.79,456.19 L207.84,455.93 L207.89,455.68 L207.93,455.42 L207.98,455.16 L208.03,454.90 L208.08,454.64 L208.12,454.38 L208.17,454.12 L208.22,453.85 L208.27,453.58 L208.31,453.31 L208.36,453.04 L208.41,452.77 L208.46,452.50 L208.50,452.22 L208.55,451.94 L208.60,451.66 L208.65,451.38 L208.69,451.10 L208.74,450.82 L208.79,450.53 L208.84,450.24 L208.88,449.95 L208.93,449.66 L208.98,449.37 L209.03,449.08 L209.07,448.78 L209.12,448.49 L209.17,448.19 L209.22,447.89 L209.26,447.58 L209.31,447.28 L209.36,446.97 L209.41,446.67 L209.45,446.36 L209.50,446.05 L209.55,445.73 L209.60,445.42 L209.64,445.10 L209.69,444.79 L209.74,444.47 L209.79,444.15 L209.83,443.82 L209.88,443.50 L209.93,443.17 L209.98,442.84 L210.02,442.51 L210.07,442.18 L210.12,441.85 L210.17,441.51 L210.21,441.18 L210.26,440.84 L210.31,440.50 L210.36,440.16 L210.40,439.81 L210.45,439.47 L210.50,439.12 L210.55,438.77 L210.59,438.42 L210.64,438.07 L210.69,437.72 L210.74,437.36 L210.78,437.00 L210.83,436.64 L210.88,436.28 L210.93,435.92 L210.97,435.55 L211.02,435.19 L211.07,434.82 L211.12,434.45 L211.16,434.08 L211.21,433.71 L211.26,433.33 L211.31,432.96 L211.35,432.58 L211.40,432.20 L211.45,431.82 L211.50,431.43 L211.54,431.05 L211.59,430.66 L211.64,430.28 L211.69,429.89 L211.73,429.50 L211.78,429.10 L211.83,428.71 L211.88,428.31 L211.93,427.92 L211.97,427.52 L212.02,427.12 L212.07,426.71 L212.12,426.31 L212.16,425.90 L212.21,425.50 L212.26,425.09 L212.31,424.68 L212.35,424.27 L212.40,423.86 L212.45,423.44 L212.50,423.03 L212.54,422.61 L212.59,422.19 L212.64,421.77 L212.69,421.35 L212.73,420.93 L212.78,420.51 L212.83,420.08 L212.88,419.66 L212.92,419.23 L212.97,418.80 L213.02,418.37 L213.07,417.94 L213.11,417.51 L213.16,417.08 L213.21,416.64 L213.26,416.21 L213.30,415.77 L213.35,415.34 L213.40,414.90 L213.45,414.46 L213.49,414.02 L213.54,413.58 L213.59,413.14 L213.64,412.70 L213.68,412.26 L213.73,411.81 L213.78,411.37 L213.83,410.93 L213.87,410.48 L213.92,410.04 L213.97,409.59 L214.02,409.15 L214.06,408.70 L214.11,408.25 L214.16,407.81 L214.21,407.36 L214.25,406.91 L214.30,406.47 L214.35,406.02 L214.40,405.57 L214.44,405.13 L214.49,404.68 L214.54,404.24 L214.59,403.79 L214.63,403.35 L214.68,402.90 L214.73,402.46 L214.78,402.02 L214.82,401.57 L214.87,401.13 L214.92,400.69 L214.97,400.25 L215.01,399.82 L215.06,399.38 L215.11,398.95 L215.16,398.51 L215.20,398.08 L215.25,397.65 L215.30,397.22 L215.35,396.80 L215.39,396.37 L215.44,395.95 L215.49,395.53 L215.54,395.11 L215.58,394.70 L215.63,394.29 L215.68,393.88 L215.73,393.48 L215.77,393.07 L215.82,392.67 L215.87,392.28 L215.92,391.89 L215.96,391.50 L216.01,391.12 L216.06,390.74 L216.11,390.37 L216.15,390.00 L216.20,389.63 L216.25,389.28 L216.30,388.92 L216.34,388.57 L216.39,388.23 L216.44,387.90 L216.49,387.57 L216.53,387.25 L216.58,386.93 L216.63,386.63 L216.68,386.33 L216.72,386.03 L216.77,385.75 L216.82,385.48 L216.87,385.21 L216.91,384.96 L216.96,384.71 L217.01,384.48 L217.06,384.25 L217.10,384.04 L217.15,383.84 L217.20,383.65 L217.25,383.47 L217.29,383.31 L217.34,383.16 L217.39,383.02 L217.44,382.90 L217.48,382.80 L217.53,382.71 L217.58,382.64 L217.63,382.58 L217.67,382.55 L217.72,382.53 L217.77,382.54 L217.82,382.56 L217.87,382.61 L217.91,382.68 L217.96,382.77 L218.01,382.89 L218.06,383.04 L218.10,383.21 L218.15,383.41 L218.20,383.64 L218.25,383.91 L218.29,384.20 L218.34,384.54 L218.39,384.91 L218.44,385.31 L218.48,385.76 L218.53,386.25 L218.58,386.79 L218.63,387.38 L218.67,388.01 L218.72,388.71 L218.77,389.45 L218.82,390.26 L218.86,391.14 L218.91,392.08 L218.96,393.10 L219.01,394.19 L219.05,395.38 L219.06,395.58 L219.07,395.79 L219.08,396.00 L219.08,396.21 L219.09,396.42 L219.10,396.64 L219.11,396.86 L219.12,397.08 L219.12,397.31 L219.13,397.54 L219.14,397.77 L219.15,398.00 L219.15,398.24 L219.16,398.48 L219.17,398.72 L219.18,398.96 L219.19,399.21 L219.19,399.47 L219.20,399.72 L219.21,399.98 L219.22,400.24 L219.23,400.51 L219.23,400.78 L219.24,401.05 L219.25,401.32 L219.26,401.60 L219.26,401.89 L219.27,402.17 L219.28,402.46 L219.29,402.76 L219.30,403.05 L219.30,403.36 L219.31,403.66 L219.32,403.97 L219.33,404.29 L219.34,404.60 L219.34,404.93 L219.35,405.25 L219.36,405.58 L219.37,405.92 L219.37,406.26 L219.38,406.61 L219.39,406.96 L219.40,407.31 L219.41,407.67 L219.41,408.03 L219.42,408.40 L219.43,408.78 L219.44,409.16 L219.44,409.55 L219.45,409.94 L219.46,410.33 L219.47,410.74 L219.48,411.15 L219.48,411.56 L219.49,411.98 L219.50,412.41 L219.51,412.84 L219.52,413.28 L219.52,413.73 L219.53,414.18 L219.54,414.65 L219.55,415.11 L219.55,415.59 L219.56,416.07 L219.57,416.56 L219.58,417.06 L219.59,417.57 L219.59,418.09 L219.60,418.61 L219.61,419.15 L219.62,419.69 L219.63,420.24 L219.63,420.80 L219.64,421.38 L219.65,421.96 L219.66,422.55 L219.66,423.16 L219.67,423.77 L219.68,424.40 L219.69,425.04 L219.70,425.69 L219.70,426.36 L219.71,427.04 L219.72,427.73 L219.73,428.44 L219.73,429.16 L219.74,429.90 L219.75,430.66 L219.76,431.43 L219.77,432.22 L219.77,433.03 L219.78,433.86 L219.79,434.72 L219.80,435.59 L219.81,436.49 L219.81,437.41 L219.82,438.35 L219.83,439.33 L219.84,440.33 L219.84,441.37 L219.85,442.43 L219.86,443.54 L219.87,444.68 L219.88,445.87 L219.88,447.10 L219.89,448.38 L219.90,449.71 L219.91,451.11 L219.92,452.58 L219.92,454.12 L219.93,455.75 L219.94,457.48 L219.95,459.33 L219.95,461.33 L219.96,463.50 L219.97,465.91 L219.98,468.63 L219.99,471.84" fill="none" stroke="#ff0000" stroke-width="1.15" stroke-linecap="butt" stroke-linejoin="round" clip-path="url(#c2)"/>
<path d="M30.60,484.90 L31.70,484.90 L32.80,484.90 L33.91,484.91 L35.01,484.91 L36.11,484.91 L37.21,484.91 L38.31,484.91 L39.41,484.91 L40.52,484.91 L41.62,484.91 L42.72,484.92 L43.82,484.92 L44.92,484.92 L46.03,484.92 L47.13,484.92 L48.23,484.92 L49.33,484.93 L50.43,484.93 L51.54,484.93 L52.64,484.93 L53.74,484.93 L54.84,484.94 L55.94,484.94 L57.04,484.94 L58.15,484.95 L59.25,484.95 L60.35,484.95 L61.45,484.95 L62.55,484.96 L63.66,484.96 L64.76,484.96 L65.86,484.97 L66.96,484.97 L68.06,484.98 L69.16,484.98 L70.27,484.99 L71.37,484.99 L72.47,485.00 L73.57,485.00 L74.67,485.01 L75.78,485.01 L76.88,485.02 L77.98,485.02 L79.08,485.03 L80.18,485.04 L81.29,485.04 L82.39,485.05 L83.49,485.06 L84.59,485.07 L85.69,485.08 L86.79,485.08 L87.90,485.09 L89.00,485.10 L90.10,485.11 L91.20,485.12 L92.30,485.13 L93.41,485.15 L94.51,485.16 L95.61,485.17 L96.71,485.18 L97.81,485.20 L98.92,485.21 L100.02,485.22 L101.12,485.24 L102.22,485.25 L103.32,485.27 L104.42,485.29 L105.53,485.30 L106.63,485.32 L107.73,485.34 L108.83,485.36 L109.93,485.38 L111.04,485.40 L112.14,485.43 L113.24,485.45 L114.34,485.47 L115.44,485.50 L116.54,485.52 L117.65,485.55 L118.75,485.58 L119.85,485.60 L120.95,485.63 L122.05,485.66 L123.16,485.69 L124.26,485.73 L125.36,485.76 L126.46,485.80 L127.56,485.83 L128.67,485.87 L129.77,485.91 L130.87,485.94 L131.97,485.99 L133.07,486.03 L134.17,486.07 L135.28,486.11 L136.38,486.16 L137.48,486.20 L138.58,486.25 L139.68,486.30 L140.79,486.35 L141.89,486.40 L142.99,486.45 L144.09,486.51 L145.19,486.56 L146.29,486.62 L147.40,486.67 L148.50,486.73 L149.60,486.79 L150.70,486.84 L151.80,486.90 L152.91,486.96 L154.01,487.02 L155.11,487.08 L156.21,487.14 L157.31,487.19 L158.42,487.25 L159.52,487.31 L160.62,487.36 L161.72,487.41 L162.82,487.46 L163.92,487.51 L165.03,487.55 L166.13,487.59 L167.23,487.62 L168.33,487.65 L169.43,487.67 L170.54,487.68 L171.64,487.68 L172.74,487.66 L173.84,487.64 L174.94,487.59 L176.04,487.53 L177.15,487.45 L178.25,487.34 L179.35,487.20 L180.45,487.03 L181.55,486.82 L182.66,486.57 L183.76,486.27 L184.86,485.91 L185.96,485.49 L187.06,485.00 L188.17,484.42 L189.27,483.75 L190.37,482.97 L191.47,482.07 L192.57,481.03 L193.67,479.85 L194.78,478.49 L195.88,476.94 L196.98,475.18 L198.08,473.19 L199.18,470.95 L200.29,468.43 L201.39,465.61 L202.49,462.46 L203.59,458.99 L204.69,455.16 L205.79,450.99 L205.84,450.80 L205.89,450.61 L205.94,450.42 L205.99,450.23 L206.03,450.04 L206.08,449.85 L206.13,449.66 L206.18,449.47 L206.22,449.28 L206.27,449.08 L206.32,448.89 L206.37,448.69 L206.41,448.50 L206.46,448.30 L206.51,448.11 L206.56,447.91 L206.60,447.71 L206.65,447.52 L206.70,447.32 L206.75,447.12 L206.79,446.92 L206.84,446.72 L206.89,446.52 L206.94,446.32 L206.98,446.11 L207.03,445.91 L207.08,445.71 L207.13,445.50 L207.17,445.30 L207.22,445.10 L207.27,444.89 L207.32,444.68 L207.36,444.48 L207.41,444.27 L207.46,444.06 L207.51,443.86 L207.55,443.65 L207.60,443.44 L207.65,443.23 L207.70,443.02 L207.74,442.81 L207.79,442.60 L207.84,442.39 L207.89,442.17 L207.93,441.96 L207.98,441.75 L208.03,441.53 L208.08,441.32 L208.12,441.11 L208.17,440.89 L208.22,440.68 L208.27,440.46 L208.31,440.25 L208.36,440.03 L208.41,439.81 L208.46,439.60 L208.50,439.38 L208.55,439.16 L208.60,438.94 L208.65,438.72 L208.69,438.50 L208.74,438.28 L208.79,438.07 L208.84,437.85 L208.88,437.62 L208.93,437.40 L208.98,437.18 L209.03,436.96 L209.07,436.74 L209.12,436.52 L209.17,436.30 L209.22,436.07 L209.26,435.85 L209.31,435.63 L209.36,435.41 L209.41,435.18 L209.45,434.96 L209.50,434.74 L209.55,434.51 L209.60,434.29 L209.64,434.06 L209.69,433.84 L209.74,433.62 L209.79,433.39 L209.83,433.17 L209.88,432.94 L209.93,432.72 L209.98,432.49 L210.02,432.27 L210.07,432.04 L210.12,431.82 L210.17,431.59 L210.21,431.37 L210.26,431.14 L210.31,430.92 L210.36,430.70 L210.40,430.47 L210.45,430.25 L210.50,430.02 L210.55,429.80 L210.59,429.57 L210.64,429.35 L210.69,429.13 L210.74,428.90 L210.78,428.68 L210.83,428.46 L210.88,428.23 L210.93,428.01 L210.97,427.79 L211.02,427.57 L211.07,427.35 L211.12,427.12 L211.16,426.90 L211.21,426.68 L211.26,426.46 L211.31,426.24 L211.35,426.03 L211.40,425.81 L211.45,425.59 L211.50,425.37 L211.54,425.15 L211.59,424.94 L211.64,424.72 L211.69,424.51 L211.73,424.29 L211.78,424.08 L211.83,423.87 L211.88,423.66 L211.93,423.44 L211.97,423.23 L212.02,423.03 L212.07,422.82 L212.12,422.61 L212.16,422.40 L212.21,422.20 L212.26,421.99 L212.31,421.79 L212.35,421.59 L212.40,421.38 L212.45,421.18 L212.50,420.98 L212.54,420.79 L212.59,420.59 L212.64,420.39 L212.69,420.20 L212.73,420.01 L212.78,419.82 L212.83,419.63 L212.88,419.44 L212.92,419.25 L212.97,419.07 L213.02,418.88 L213.07,418.70 L213.11,418.52 L213.16,418.34 L213.21,418.17 L213.26,417.99 L213.30,417.82 L213.35,417.65 L213.40,417.48 L213.45,417.31 L213.49,417.15 L213.54,416.98 L213.59,416.82 L213.64,416.67 L213.68,416.51 L213.73,416.36 L213.78,416.21 L213.83,416.06 L213.87,415.91 L213.92,415.77 L213.97,415.63 L214.02,415.49 L214.06,415.35 L214.11,415.22 L214.16,415.09 L214.21,414.97 L214.25,414.84 L214.30,414.72 L214.35,414.60 L214.40,414.49 L214.44,414.38 L214.49,414.27 L214.54,414.17 L214.59,414.07 L214.63,413.97 L214.68,413.88 L214.73,413.79 L214.78,413.71 L214.82,413.63 L214.87,413.55 L214.92,413.48 L214.97,413.41 L215.01,413.34 L215.06,413.28 L215.11,413.23 L215.16,413.18 L215.20,413.13 L215.25,413.09 L215.30,413.06 L215.35,413.02 L215.39,413.00 L215.44,412.98 L215.49,412.96 L215.54,412.95 L215.58,412.95 L215.63,412.95 L215.68,412.96 L215.73,412.97 L215.77,412.99 L215.82,413.02 L215.87,413.05 L215.92,413.09 L215.96,413.13 L216.01,413.19 L216.06,413.25 L216.11,413.31 L216.15,413.39 L216.20,413.47 L216.25,413.55 L216.30,413.65 L216.34,413.76 L216.39,413.87 L216.44,413.99 L216.49,414.12 L216.53,414.25 L216.58,414.40 L216.63,414.56 L216.68,414.72 L216.72,414.90 L216.77,415.08 L216.82,415.27 L216.87,415.48 L216.91,415.69 L216.96,415.92 L217.01,416.15 L217.06,416.40 L217.10,416.66 L217.15,416.92 L217.20,417.21 L217.25,417.50 L217.29,417.80 L217.34,418.12 L217.39,418.45 L217.44,418.80 L217.48,419.16 L217.53,419.53 L217.58,419.92 L217.63,420.32 L217.67,420.74 L217.72,421.17 L217.77,421.62 L217.82,422.08 L217.87,422.56 L217.91,423.06 L217.96,423.58 L218.01,424.11 L218.06,424.67 L218.10,425.24 L218.15,425.83 L218.20,426.45 L218.25,427.08 L218.29,427.74 L218.34,428.41 L218.39,429.12 L218.44,429.84 L218.48,430.59 L218.53,431.37 L218.58,432.17 L218.63,433.00 L218.67,433.86 L218.72,434.75 L218.77,435.66 L218.82,436.61 L218.86,437.60 L218.91,438.62 L218.96,439.67 L219.01,440.77 L219.05,441.90 L219.06,442.09 L219.07,442.28 L219.08,442.47 L219.08,442.67 L219.09,442.86 L219.10,443.06 L219.11,443.26 L219.12,443.46 L219.12,443.66 L219.13,443.86 L219.14,444.06 L219.15,444.27 L219.15,444.47 L219.16,444.68 L219.17,444.89 L219.18,445.10 L219.19,445.31 L219.19,445.52 L219.20,445.73 L219.21,445.95 L219.22,446.16 L219.23,446.38 L219.23,446.60 L219.24,446.82 L219.25,447.04 L219.26,447.26 L219.26,447.49 L219.27,447.71 L219.28,447.94 L219.29,448.17 L219.30,448.40 L219.30,448.63 L219.31,448.87 L219.32,449.10 L219.33,449.34 L219.34,449.58 L219.34,449.82 L219.35,450.06 L219.36,450.30 L219.37,450.55 L219.37,450.79 L219.38,451.04 L219.39,451.29 L219.40,451.55 L219.41,451.80 L219.41,452.06 L219.42,452.31 L219.43,452.57 L219.44,452.83 L219.44,453.10 L219.45,453.36 L219.46,453.63 L219.47,453.90 L219.48,454.17 L219.48,454.44 L219.49,454.72 L219.50,455.00 L219.51,455.28 L219.52,455.56 L219.52,455.84 L219.53,456.13 L219.54,456.42 L219.55,456.71 L219.55,457.00 L219.56,457.30 L219.57,457.60 L219.58,457.90 L219.59,458.20 L219.59,458.51 L219.60,458.82 L219.61,459.13 L219.62,459.44 L219.63,459.76 L219.63,460.08 L219.64,460.41 L219.65,460.73 L219.66,461.06 L219.66,461.39 L219.67,461.73 L219.68,462.07 L219.69,462.41 L219.70,462.76 L219.70,463.11 L219.71,463.46 L219.72,463.82 L219.73,464.18 L219.73,464.55 L219.74,464.92 L219.75,465.29 L219.76,465.67 L219.77,466.05 L219.77,466.44 L219.78,466.83 L219.79,467.23 L219.80,467.63 L219.81,468.04 L219.81,468.45 L219.82,468.87 L219.83,469.30 L219.84,469.73 L219.84,470.17 L219.85,470.62 L219.86,471.08 L219.87,471.54 L219.88,472.01 L219.88,472.49 L219.89,472.98 L219.90,473.48 L219.91,474.00 L219.92,474.52 L219.92,475.06 L219.93,475.62 L219.94,476.19 L219.95,476.79 L219.95,477.40 L219.96,478.04 L219.97,478.72 L219.98,479.44 L219.99,480.22" fill="none" stroke="#0000ff" stroke-width="1.15" stroke-linecap="butt" stroke-linejoin="round" stroke-dasharray="3.9 2.6" stroke-dashoffset="1.65" clip-path="url(#c2)"/>
<path d="M30.60,482.07 L31.70,482.07 L32.80,482.07 L33.91,482.07 L35.01,482.07 L36.11,482.07 L37.21,482.07 L38.31,482.07 L39.41,482.07 L40.52,482.07 L41.62,482.07 L42.72,482.07 L43.82,482.07 L44.92,482.07 L46.03,482.07 L47.13,482.07 L48.23,482.07 L49.33,482.07 L50.43,482.07 L51.54,482.07 L52.64,482.07 L53.74,482.07 L54.84,482.07 L55.94,482.07 L57.04,482.07 L58.15,482.07 L59.25,482.07 L60.35,482.07 L61.45,482.07 L62.55,482.07 L63.66,482.07 L64.76,482.07 L65.86,482.07 L66.96,482.07 L68.06,482.07 L69.16,482.07 L70.27,482.07 L71.37,482.07 L72.47,482.07 L73.57,482.07 L74.67,482.07 L75.78,482.07 L76.88,482.07 L77.98,482.07 L79.08,482.07 L80.18,482.07 L81.29,482.07 L82.39,482.07 L83.49,482.07 L84.59,482.07 L85.69,482.07 L86.79,482.07 L87.90,482.07 L89.00,482.07 L90.10,482.07 L91.20,482.07 L92.30,482.07 L93.41,482.07 L94.51,482.07 L95.61,482.07 L96.71,482.07 L97.81,482.07 L98.92,482.07 L100.02,482.07 L101.12,482.07 L102.22,482.07 L103.32,482.07 L104.42,482.07 L105.53,482.06 L106.63,482.06 L107.73,482.06 L108.83,482.06 L109.93,482.06 L111.04,482.06 L112.14,482.06 L113.24,482.06 L114.34,482.06 L115.44,482.06 L116.54,482.06 L117.65,482.06 L118.75,482.05 L119.85,482.05 L120.95,482.05 L122.05,482.05 L123.16,482.05 L124.26,482.05 L125.36,482.04 L126.46,482.04 L127.56,482.04 L128.67,482.03 L129.77,482.03 L130.87,482.02 L131.97,482.02 L133.07,482.01 L134.17,482.01 L135.28,482.00 L136.38,481.99 L137.48,481.98 L138.58,481.97 L139.68,481.96 L140.79,481.95 L141.89,481.94 L142.99,481.92 L144.09,481.91 L145.19,481.89 L146.29,481.87 L147.40,481.85 L148.50,481.82 L149.60,481.80 L150.70,481.77 L151.80,481.73 L152.91,481.69 L154.01,481.65 L155.11,481.61 L156.21,481.56 L157.31,481.50 L158.42,481.44 L159.52,481.37 L160.62,481.29 L161.72,481.21 L162.82,481.11 L163.92,481.01 L165.03,480.89 L166.13,480.76 L167.23,480.62 L168.33,480.47 L169.43,480.29 L170.54,480.10 L171.64,479.89 L172.74,479.66 L173.84,479.41 L174.94,479.12 L176.04,478.81 L177.15,478.47 L178.25,478.10 L179.35,477.68 L180.45,477.23 L181.55,476.73 L182.66,476.19 L183.76,475.60 L184.86,474.95 L185.96,474.24 L187.06,473.46 L188.17,472.62 L189.27,471.71 L190.37,470.72 L191.47,469.65 L192.57,468.50 L193.67,467.27 L194.78,465.94 L195.88,464.53 L196.98,463.02 L198.08,461.44 L199.18,459.77 L200.29,458.02 L201.39,456.22 L202.49,454.37 L203.59,452.50 L204.69,450.64 L205.79,448.83 L205.84,448.75 L205.89,448.68 L205.94,448.60 L205.99,448.52 L206.03,448.45 L206.08,448.37 L206.13,448.30 L206.18,448.22 L206.22,448.15 L206.27,448.07 L206.32,448.00 L206.37,447.92 L206.41,447.85 L206.46,447.78 L206.51,447.70 L206.56,447.63 L206.60,447.56 L206.65,447.49 L206.70,447.41 L206.75,447.34 L206.79,447.27 L206.84,447.20 L206.89,447.13 L206.94,447.06 L206.98,446.99 L207.03,446.92 L207.08,446.85 L207.13,446.78 L207.17,446.71 L207.22,446.64 L207.27,446.57 L207.32,446.50 L207.36,446.43 L207.41,446.37 L207.46,446.30 L207.51,446.23 L207.55,446.17 L207.60,446.10 L207.65,446.03 L207.70,445.97 L207.74,445.90 L207.79,445.84 L207.84,445.78 L207.89,445.71 L207.93,445.65 L207.98,445.59 L208.03,445.52 L208.08,445.46 L208.12,445.40 L208.17,445.34 L208.22,445.28 L208.27,445.22 L208.31,445.16 L208.36,445.10 L208.41,445.04 L208.46,444.99 L208.50,444.93 L208.55,444.87 L208.60,444.82 L208.65,444.76 L208.69,444.70 L208.74,444.65 L208.79,444.60 L208.84,444.54 L208.88,444.49 L208.93,444.44 L208.98,444.39 L209.03,444.33 L209.07,444.28 L209.12,444.23 L209.17,444.19 L209.22,444.14 L209.26,444.09 L209.31,444.04 L209.36,444.00 L209.41,443.95 L209.45,443.90 L209.50,443.86 L209.55,443.82 L209.60,443.77 L209.64,443.73 L209.69,443.69 L209.74,443.65 L209.79,443.61 L209.83,443.57 L209.88,443.53 L209.93,443.49 L209.98,443.46 L210.02,443.42 L210.07,443.39 L210.12,443.35 L210.17,443.32 L210.21,443.29 L210.26,443.25 L210.31,443.22 L210.36,443.19 L210.40,443.16 L210.45,443.14 L210.50,443.11 L210.55,443.08 L210.59,443.06 L210.64,443.03 L210.69,443.01 L210.74,442.99 L210.78,442.97 L210.83,442.94 L210.88,442.93 L210.93,442.91 L210.97,442.89 L211.02,442.87 L211.07,442.86 L211.12,442.84 L211.16,442.83 L211.21,442.82 L211.26,442.81 L211.31,442.80 L211.35,442.79 L211.40,442.78 L211.45,442.78 L211.50,442.77 L211.54,442.77 L211.59,442.77 L211.64,442.77 L211.69,442.77 L211.73,442.77 L211.78,442.77 L211.83,442.77 L211.88,442.78 L211.93,442.78 L211.97,442.79 L212.02,442.80 L212.07,442.81 L212.12,442.82 L212.16,442.84 L212.21,442.85 L212.26,442.87 L212.31,442.89 L212.35,442.91 L212.40,442.93 L212.45,442.95 L212.50,442.97 L212.54,443.00 L212.59,443.02 L212.64,443.05 L212.69,443.08 L212.73,443.11 L212.78,443.15 L212.83,443.18 L212.88,443.22 L212.92,443.26 L212.97,443.30 L213.02,443.34 L213.07,443.38 L213.11,443.43 L213.16,443.47 L213.21,443.52 L213.26,443.57 L213.30,443.62 L213.35,443.68 L213.40,443.73 L213.45,443.79 L213.49,443.85 L213.54,443.91 L213.59,443.98 L213.64,444.04 L213.68,444.11 L213.73,444.18 L213.78,444.25 L213.83,444.32 L213.87,444.40 L213.92,444.48 L213.97,444.56 L214.02,444.64 L214.06,444.72 L214.11,444.81 L214.16,444.90 L214.21,444.99 L214.25,445.08 L214.30,445.18 L214.35,445.28 L214.40,445.38 L214.44,445.48 L214.49,445.58 L214.54,445.69 L214.59,445.80 L214.63,445.91 L214.68,446.02 L214.73,446.14 L214.78,446.26 L214.82,446.38 L214.87,446.51 L214.92,446.63 L214.97,446.76 L215.01,446.90 L215.06,447.03 L215.11,447.17 L215.16,447.31 L215.20,447.45 L215.25,447.60 L215.30,447.75 L215.35,447.90 L215.39,448.05 L215.44,448.21 L215.49,448.37 L215.54,448.53 L215.58,448.70 L215.63,448.87 L215.68,449.04 L215.73,449.22 L215.77,449.40 L215.82,449.58 L215.87,449.76 L215.92,449.95 L215.96,450.14 L216.01,450.33 L216.06,450.53 L216.11,450.73 L216.15,450.94 L216.20,451.15 L216.25,451.36 L216.30,451.57 L216.34,451.79 L216.39,452.01 L216.44,452.24 L216.49,452.46 L216.53,452.70 L216.58,452.93 L216.63,453.17 L216.68,453.41 L216.72,453.66 L216.77,453.91 L216.82,454.17 L216.87,454.43 L216.91,454.69 L216.96,454.95 L217.01,455.22 L217.06,455.50 L217.10,455.78 L217.15,456.06 L217.20,456.35 L217.25,456.64 L217.29,456.93 L217.34,457.23 L217.39,457.53 L217.44,457.84 L217.48,458.15 L217.53,458.47 L217.58,458.79 L217.63,459.12 L217.67,459.45 L217.72,459.78 L217.77,460.12 L217.82,460.46 L217.87,460.81 L217.91,461.16 L217.96,461.52 L218.01,461.89 L218.06,462.25 L218.10,462.63 L218.15,463.00 L218.20,463.39 L218.25,463.77 L218.29,464.17 L218.34,464.56 L218.39,464.97 L218.44,465.37 L218.48,465.79 L218.53,466.21 L218.58,466.63 L218.63,467.06 L218.67,467.50 L218.72,467.94 L218.77,468.38 L218.82,468.83 L218.86,469.29 L218.91,469.75 L218.96,470.22 L219.01,470.70 L219.05,471.18 L219.06,471.26 L219.07,471.34 L219.08,471.42 L219.08,471.50 L219.09,471.58 L219.10,471.66 L219.11,471.74 L219.12,471.82 L219.12,471.90 L219.13,471.98 L219.14,472.07 L219.15,472.15 L219.15,472.23 L219.16,472.31 L219.17,472.39 L219.18,472.48 L219.19,472.56 L219.19,472.64 L219.20,472.72 L219.21,472.81 L219.22,472.89 L219.23,472.97 L219.23,473.06 L219.24,473.14 L219.25,473.22 L219.26,473.31 L219.26,473.39 L219.27,473.48 L219.28,473.56 L219.29,473.65 L219.30,473.73 L219.30,473.82 L219.31,473.90 L219.32,473.99 L219.33,474.07 L219.34,474.16 L219.34,474.24 L219.35,474.33 L219.36,474.42 L219.37,474.50 L219.37,474.59 L219.38,474.68 L219.39,474.76 L219.40,474.85 L219.41,474.94 L219.41,475.02 L219.42,475.11 L219.43,475.20 L219.44,475.29 L219.44,475.37 L219.45,475.46 L219.46,475.55 L219.47,475.64 L219.48,475.73 L219.48,475.82 L219.49,475.91 L219.50,476.00 L219.51,476.09 L219.52,476.18 L219.52,476.27 L219.53,476.36 L219.54,476.45 L219.55,476.54 L219.55,476.63 L219.56,476.72 L219.57,476.81 L219.58,476.90 L219.59,476.99 L219.59,477.08 L219.60,477.17 L219.61,477.26 L219.62,477.36 L219.63,477.45 L219.63,477.54 L219.64,477.63 L219.65,477.73 L219.66,477.82 L219.66,477.91 L219.67,478.01 L219.68,478.10 L219.69,478.19 L219.70,478.29 L219.70,478.38 L219.71,478.47 L219.72,478.57 L219.73,478.66 L219.73,478.76 L219.74,478.85 L219.75,478.95 L219.76,479.04 L219.77,479.14 L219.77,479.23 L219.78,479.33 L219.79,479.43 L219.80,479.52 L219.81,479.62 L219.81,479.71 L219.82,479.81 L219.83,479.91 L219.84,480.01 L219.84,480.10 L219.85,480.20 L219.86,480.30 L219.87,480.40 L219.88,480.49 L219.88,480.59 L219.89,480.69 L219.90,480.79 L219.91,480.89 L219.92,480.99 L219.92,481.09 L219.93,481.19 L219.94,481.28 L219.95,481.38 L219.95,481.48 L219.96,481.58 L219.97,481.68 L219.98,481.79 L219.99,481.89 L220.00,482.07" fill="none" stroke="#000" stroke-width="1.35" stroke-linecap="butt" stroke-linejoin="round" stroke-dasharray="1.45 2.1" stroke-dashoffset="2.95" clip-path="url(#c2)"/>
<path d="M30.60,453.22 L32.47,453.53 L34.35,453.85 L36.22,454.17 L38.10,454.48 L39.97,454.80 L41.85,455.11 L43.72,455.43 L45.60,455.75 L47.47,456.06 L49.35,456.38 L51.22,456.70 L53.10,457.01 L54.97,457.33 L56.85,457.65 L58.72,457.97 L60.59,458.29 L62.47,458.61 L64.34,458.93 L66.22,459.25 L68.09,459.57 L69.97,459.89 L71.84,460.21 L73.72,460.53 L75.59,460.85 L77.47,461.18 L79.34,461.50 L81.22,461.83 L83.09,462.15 L84.97,462.48 L86.84,462.81 L88.71,463.14 L90.59,463.47 L92.46,463.80 L94.34,464.13 L96.21,464.47 L98.09,464.81 L99.96,465.14 L101.84,465.48 L103.71,465.82" fill="none" stroke="#ff00ff" stroke-width="1.15" stroke-linecap="butt" stroke-linejoin="round" stroke-dasharray="4.4 1.2 1.6 1.2" stroke-dashoffset="6.2" clip-path="url(#c2)"/>
<rect x="30.6" y="208.65" width="189.40" height="132.55" fill="none" stroke="#000" stroke-width="0.9"/>
<line x1="44.85" y1="341.20" x2="44.85" y2="338.30" stroke="#000" stroke-width="0.9"/>
<line x1="44.85" y1="208.65" x2="44.85" y2="211.55" stroke="#000" stroke-width="0.9"/>
<line x1="53.19" y1="341.20" x2="53.19" y2="338.30" stroke="#000" stroke-width="0.9"/>
<line x1="53.19" y1="208.65" x2="53.19" y2="211.55" stroke="#000" stroke-width="0.9"/>
<line x1="59.11" y1="341.20" x2="59.11" y2="338.30" stroke="#000" stroke-width="0.9"/>
<line x1="59.11" y1="208.65" x2="59.11" y2="211.55" stroke="#000" stroke-width="0.9"/>
<line x1="63.70" y1="341.20" x2="63.70" y2="338.30" stroke="#000" stroke-width="0.9"/>
<line x1="63.70" y1="208.65" x2="63.70" y2="211.55" stroke="#000" stroke-width="0.9"/>
<line x1="67.45" y1="341.20" x2="67.45" y2="338.30" stroke="#000" stroke-width="0.9"/>
<line x1="67.45" y1="208.65" x2="67.45" y2="211.55" stroke="#000" stroke-width="0.9"/>
<line x1="70.62" y1="341.20" x2="70.62" y2="338.30" stroke="#000" stroke-width="0.9"/>
<line x1="70.62" y1="208.65" x2="70.62" y2="211.55" stroke="#000" stroke-width="0.9"/>
<line x1="73.36" y1="341.20" x2="73.36" y2="338.30" stroke="#000" stroke-width="0.9"/>
<line x1="73.36" y1="208.65" x2="73.36" y2="211.55" stroke="#000" stroke-width="0.9"/>
<line x1="75.78" y1="341.20" x2="75.78" y2="338.30" stroke="#000" stroke-width="0.9"/>
<line x1="75.78" y1="208.65" x2="75.78" y2="211.55" stroke="#000" stroke-width="0.9"/>
<line x1="77.95" y1="341.20" x2="77.95" y2="335.60" stroke="#000" stroke-width="0.9"/>
<line x1="77.95" y1="208.65" x2="77.95" y2="214.25" stroke="#000" stroke-width="0.9"/>
<line x1="92.20" y1="341.20" x2="92.20" y2="338.30" stroke="#000" stroke-width="0.9"/>
<line x1="92.20" y1="208.65" x2="92.20" y2="211.55" stroke="#000" stroke-width="0.9"/>
<line x1="100.54" y1="341.20" x2="100.54" y2="338.30" stroke="#000" stroke-width="0.9"/>
<line x1="100.54" y1="208.65" x2="100.54" y2="211.55" stroke="#000" stroke-width="0.9"/>
<line x1="106.46" y1="341.20" x2="106.46" y2="338.30" stroke="#000" stroke-width="0.9"/>
<line x1="106.46" y1="208.65" x2="106.46" y2="211.55" stroke="#000" stroke-width="0.9"/>
<line x1="111.05" y1="341.20" x2="111.05" y2="338.30" stroke="#000" stroke-width="0.9"/>
<line x1="111.05" y1="208.65" x2="111.05" y2="211.55" stroke="#000" stroke-width="0.9"/>
<line x1="114.80" y1="341.20" x2="114.80" y2="338.30" stroke="#000" stroke-width="0.9"/>
<line x1="114.80" y1="208.65" x2="114.80" y2="211.55" stroke="#000" stroke-width="0.9"/>
<line x1="117.97" y1="341.20" x2="117.97" y2="338.30" stroke="#000" stroke-width="0.9"/>
<line x1="117.97" y1="208.65" x2="117.97" y2="211.55" stroke="#000" stroke-width="0.9"/>
<line x1="120.71" y1="341.20" x2="120.71" y2="338.30" stroke="#000" stroke-width="0.9"/>
<line x1="120.71" y1="208.65" x2="120.71" y2="211.55" stroke="#000" stroke-width="0.9"/>
<line x1="123.13" y1="341.20" x2="123.13" y2="338.30" stroke="#000" stroke-width="0.9"/>
<line x1="123.13" y1="208.65" x2="123.13" y2="211.55" stroke="#000" stroke-width="0.9"/>
<line x1="125.30" y1="341.20" x2="125.30" y2="335.60" stroke="#000" stroke-width="0.9"/>
<line x1="125.30" y1="208.65" x2="125.30" y2="214.25" stroke="#000" stroke-width="0.9"/>
<line x1="139.55" y1="341.20" x2="139.55" y2="338.30" stroke="#000" stroke-width="0.9"/>
<line x1="139.55" y1="208.65" x2="139.55" y2="211.55" stroke="#000" stroke-width="0.9"/>
<line x1="147.89" y1="341.20" x2="147.89" y2="338.30" stroke="#000" stroke-width="0.9"/>
<line x1="147.89" y1="208.65" x2="147.89" y2="211.55" stroke="#000" stroke-width="0.9"/>
<line x1="153.81" y1="341.20" x2="153.81" y2="338.30" stroke="#000" stroke-width="0.9"/>
<line x1="153.81" y1="208.65" x2="153.81" y2="211.55" stroke="#000" stroke-width="0.9"/>
<line x1="158.40" y1="341.20" x2="158.40" y2="338.30" stroke="#000" stroke-width="0.9"/>
<line x1="158.40" y1="208.65" x2="158.40" y2="211.55" stroke="#000" stroke-width="0.9"/>
<line x1="162.15" y1="341.20" x2="162.15" y2="338.30" stroke="#000" stroke-width="0.9"/>
<line x1="162.15" y1="208.65" x2="162.15" y2="211.55" stroke="#000" stroke-width="0.9"/>
<line x1="165.32" y1="341.20" x2="165.32" y2="338.30" stroke="#000" stroke-width="0.9"/>
<line x1="165.32" y1="208.65" x2="165.32" y2="211.55" stroke="#000" stroke-width="0.9"/>
<line x1="168.06" y1="341.20" x2="168.06" y2="338.30" stroke="#000" stroke-width="0.9"/>
<line x1="168.06" y1="208.65" x2="168.06" y2="211.55" stroke="#000" stroke-width="0.9"/>
<line x1="170.48" y1="341.20" x2="170.48" y2="338.30" stroke="#000" stroke-width="0.9"/>
<line x1="170.48" y1="208.65" x2="170.48" y2="211.55" stroke="#000" stroke-width="0.9"/>
<line x1="172.65" y1="341.20" x2="172.65" y2="335.60" stroke="#000" stroke-width="0.9"/>
<line x1="172.65" y1="208.65" x2="172.65" y2="214.25" stroke="#000" stroke-width="0.9"/>
<line x1="186.90" y1="341.20" x2="186.90" y2="338.30" stroke="#000" stroke-width="0.9"/>
<line x1="186.90" y1="208.65" x2="186.90" y2="211.55" stroke="#000" stroke-width="0.9"/>
<line x1="195.24" y1="341.20" x2="195.24" y2="338.30" stroke="#000" stroke-width="0.9"/>
<line x1="195.24" y1="208.65" x2="195.24" y2="211.55" stroke="#000" stroke-width="0.9"/>
<line x1="201.16" y1="341.20" x2="201.16" y2="338.30" stroke="#000" stroke-width="0.9"/>
<line x1="201.16" y1="208.65" x2="201.16" y2="211.55" stroke="#000" stroke-width="0.9"/>
<line x1="205.75" y1="341.20" x2="205.75" y2="338.30" stroke="#000" stroke-width="0.9"/>
<line x1="205.75" y1="208.65" x2="205.75" y2="211.55" stroke="#000" stroke-width="0.9"/>
<line x1="209.50" y1="341.20" x2="209.50" y2="338.30" stroke="#000" stroke-width="0.9"/>
<line x1="209.50" y1="208.65" x2="209.50" y2="211.55" stroke="#000" stroke-width="0.9"/>
<line x1="212.67" y1="341.20" x2="212.67" y2="338.30" stroke="#000" stroke-width="0.9"/>
<line x1="212.67" y1="208.65" x2="212.67" y2="211.55" stroke="#000" stroke-width="0.9"/>
<line x1="215.41" y1="341.20" x2="215.41" y2="338.30" stroke="#000" stroke-width="0.9"/>
<line x1="215.41" y1="208.65" x2="215.41" y2="211.55" stroke="#000" stroke-width="0.9"/>
<line x1="217.83" y1="341.20" x2="217.83" y2="338.30" stroke="#000" stroke-width="0.9"/>
<line x1="217.83" y1="208.65" x2="217.83" y2="211.55" stroke="#000" stroke-width="0.9"/>
<line x1="30.60" y1="332.92" x2="33.50" y2="332.92" stroke="#000" stroke-width="0.9"/>
<line x1="220.00" y1="332.92" x2="217.10" y2="332.92" stroke="#000" stroke-width="0.9"/>
<line x1="30.60" y1="324.63" x2="36.20" y2="324.63" stroke="#000" stroke-width="0.9"/>
<line x1="220.00" y1="324.63" x2="214.40" y2="324.63" stroke="#000" stroke-width="0.9"/>
<line x1="30.60" y1="316.35" x2="33.50" y2="316.35" stroke="#000" stroke-width="0.9"/>
<line x1="220.00" y1="316.35" x2="217.10" y2="316.35" stroke="#000" stroke-width="0.9"/>
<line x1="30.60" y1="308.06" x2="33.50" y2="308.06" stroke="#000" stroke-width="0.9"/>
<line x1="220.00" y1="308.06" x2="217.10" y2="308.06" stroke="#000" stroke-width="0.9"/>
<line x1="30.60" y1="299.78" x2="33.50" y2="299.78" stroke="#000" stroke-width="0.9"/>
<line x1="220.00" y1="299.78" x2="217.10" y2="299.78" stroke="#000" stroke-width="0.9"/>
<line x1="30.60" y1="291.49" x2="36.20" y2="291.49" stroke="#000" stroke-width="0.9"/>
<line x1="220.00" y1="291.49" x2="214.40" y2="291.49" stroke="#000" stroke-width="0.9"/>
<line x1="30.60" y1="283.21" x2="33.50" y2="283.21" stroke="#000" stroke-width="0.9"/>
<line x1="220.00" y1="283.21" x2="217.10" y2="283.21" stroke="#000" stroke-width="0.9"/>
<line x1="30.60" y1="274.93" x2="33.50" y2="274.93" stroke="#000" stroke-width="0.9"/>
<line x1="220.00" y1="274.93" x2="217.10" y2="274.93" stroke="#000" stroke-width="0.9"/>
<line x1="30.60" y1="266.64" x2="33.50" y2="266.64" stroke="#000" stroke-width="0.9"/>
<line x1="220.00" y1="266.64" x2="217.10" y2="266.64" stroke="#000" stroke-width="0.9"/>
<line x1="30.60" y1="258.36" x2="36.20" y2="258.36" stroke="#000" stroke-width="0.9"/>
<line x1="220.00" y1="258.36" x2="214.40" y2="258.36" stroke="#000" stroke-width="0.9"/>
<line x1="30.60" y1="250.07" x2="33.50" y2="250.07" stroke="#000" stroke-width="0.9"/>
<line x1="220.00" y1="250.07" x2="217.10" y2="250.07" stroke="#000" stroke-width="0.9"/>
<line x1="30.60" y1="241.79" x2="33.50" y2="241.79" stroke="#000" stroke-width="0.9"/>
<line x1="220.00" y1="241.79" x2="217.10" y2="241.79" stroke="#000" stroke-width="0.9"/>
<line x1="30.60" y1="233.50" x2="33.50" y2="233.50" stroke="#000" stroke-width="0.9"/>
<line x1="220.00" y1="233.50" x2="217.10" y2="233.50" stroke="#000" stroke-width="0.9"/>
<line x1="30.60" y1="225.22" x2="36.20" y2="225.22" stroke="#000" stroke-width="0.9"/>
<line x1="220.00" y1="225.22" x2="214.40" y2="225.22" stroke="#000" stroke-width="0.9"/>
<line x1="30.60" y1="216.93" x2="33.50" y2="216.93" stroke="#000" stroke-width="0.9"/>
<line x1="220.00" y1="216.93" x2="217.10" y2="216.93" stroke="#000" stroke-width="0.9"/>
<text x="25.30" y="328.18" font-size="11" fill="#000" stroke="#000" stroke-width="0.12" text-anchor="end">0</text>
<text x="25.30" y="295.04" font-size="11" fill="#000" stroke="#000" stroke-width="0.12" text-anchor="end">2</text>
<text x="25.30" y="261.91" font-size="11" fill="#000" stroke="#000" stroke-width="0.12" text-anchor="end">4</text>
<text x="25.30" y="228.77" font-size="11" fill="#000" stroke="#000" stroke-width="0.12" text-anchor="end">6</text>
<text x="22.00" y="358.80" font-size="10.6" fill="#000" stroke="#000" stroke-width="0.12" text-anchor="start">10</text>
<text x="35.60" y="351.70" font-size="8" fill="#000" stroke="#000" stroke-width="0" text-anchor="start">-4</text>
<text x="69.35" y="358.80" font-size="10.6" fill="#000" stroke="#000" stroke-width="0.12" text-anchor="start">10</text>
<text x="82.95" y="351.70" font-size="8" fill="#000" stroke="#000" stroke-width="0" text-anchor="start">-3</text>
<text x="116.70" y="358.80" font-size="10.6" fill="#000" stroke="#000" stroke-width="0.12" text-anchor="start">10</text>
<text x="130.30" y="351.70" font-size="8" fill="#000" stroke="#000" stroke-width="0" text-anchor="start">-2</text>
<text x="164.05" y="358.80" font-size="10.6" fill="#000" stroke="#000" stroke-width="0.12" text-anchor="start">10</text>
<text x="177.65" y="351.70" font-size="8" fill="#000" stroke="#000" stroke-width="0" text-anchor="start">-1</text>
<text x="217.40" y="358.80" font-size="11" fill="#000" stroke="#000" stroke-width="0.12" text-anchor="start">1</text>
<rect x="30.6" y="366.0" width="189.40" height="132.65" fill="none" stroke="#000" stroke-width="0.9"/>
<line x1="44.85" y1="498.65" x2="44.85" y2="495.75" stroke="#000" stroke-width="0.9"/>
<line x1="44.85" y1="366.00" x2="44.85" y2="368.90" stroke="#000" stroke-width="0.9"/>
<line x1="53.19" y1="498.65" x2="53.19" y2="495.75" stroke="#000" stroke-width="0.9"/>
<line x1="53.19" y1="366.00" x2="53.19" y2="368.90" stroke="#000" stroke-width="0.9"/>
<line x1="59.11" y1="498.65" x2="59.11" y2="495.75" stroke="#000" stroke-width="0.9"/>
<line x1="59.11" y1="366.00" x2="59.11" y2="368.90" stroke="#000" stroke-width="0.9"/>
<line x1="63.70" y1="498.65" x2="63.70" y2="495.75" stroke="#000" stroke-width="0.9"/>
<line x1="63.70" y1="366.00" x2="63.70" y2="368.90" stroke="#000" stroke-width="0.9"/>
<line x1="67.45" y1="498.65" x2="67.45" y2="495.75" stroke="#000" stroke-width="0.9"/>
<line x1="67.45" y1="366.00" x2="67.45" y2="368.90" stroke="#000" stroke-width="0.9"/>
<line x1="70.62" y1="498.65" x2="70.62" y2="495.75" stroke="#000" stroke-width="0.9"/>
<line x1="70.62" y1="366.00" x2="70.62" y2="368.90" stroke="#000" stroke-width="0.9"/>
<line x1="73.36" y1="498.65" x2="73.36" y2="495.75" stroke="#000" stroke-width="0.9"/>
<line x1="73.36" y1="366.00" x2="73.36" y2="368.90" stroke="#000" stroke-width="0.9"/>
<line x1="75.78" y1="498.65" x2="75.78" y2="495.75" stroke="#000" stroke-width="0.9"/>
<line x1="75.78" y1="366.00" x2="75.78" y2="368.90" stroke="#000" stroke-width="0.9"/>
<line x1="77.95" y1="498.65" x2="77.95" y2="493.05" stroke="#000" stroke-width="0.9"/>
<line x1="77.95" y1="366.00" x2="77.95" y2="371.60" stroke="#000" stroke-width="0.9"/>
<line x1="92.20" y1="498.65" x2="92.20" y2="495.75" stroke="#000" stroke-width="0.9"/>
<line x1="92.20" y1="366.00" x2="92.20" y2="368.90" stroke="#000" stroke-width="0.9"/>
<line x1="100.54" y1="498.65" x2="100.54" y2="495.75" stroke="#000" stroke-width="0.9"/>
<line x1="100.54" y1="366.00" x2="100.54" y2="368.90" stroke="#000" stroke-width="0.9"/>
<line x1="106.46" y1="498.65" x2="106.46" y2="495.75" stroke="#000" stroke-width="0.9"/>
<line x1="106.46" y1="366.00" x2="106.46" y2="368.90" stroke="#000" stroke-width="0.9"/>
<line x1="111.05" y1="498.65" x2="111.05" y2="495.75" stroke="#000" stroke-width="0.9"/>
<line x1="111.05" y1="366.00" x2="111.05" y2="368.90" stroke="#000" stroke-width="0.9"/>
<line x1="114.80" y1="498.65" x2="114.80" y2="495.75" stroke="#000" stroke-width="0.9"/>
<line x1="114.80" y1="366.00" x2="114.80" y2="368.90" stroke="#000" stroke-width="0.9"/>
<line x1="117.97" y1="498.65" x2="117.97" y2="495.75" stroke="#000" stroke-width="0.9"/>
<line x1="117.97" y1="366.00" x2="117.97" y2="368.90" stroke="#000" stroke-width="0.9"/>
<line x1="120.71" y1="498.65" x2="120.71" y2="495.75" stroke="#000" stroke-width="0.9"/>
<line x1="120.71" y1="366.00" x2="120.71" y2="368.90" stroke="#000" stroke-width="0.9"/>
<line x1="123.13" y1="498.65" x2="123.13" y2="495.75" stroke="#000" stroke-width="0.9"/>
<line x1="123.13" y1="366.00" x2="123.13" y2="368.90" stroke="#000" stroke-width="0.9"/>
<line x1="125.30" y1="498.65" x2="125.30" y2="493.05" stroke="#000" stroke-width="0.9"/>
<line x1="125.30" y1="366.00" x2="125.30" y2="371.60" stroke="#000" stroke-width="0.9"/>
<line x1="139.55" y1="498.65" x2="139.55" y2="495.75" stroke="#000" stroke-width="0.9"/>
<line x1="139.55" y1="366.00" x2="139.55" y2="368.90" stroke="#000" stroke-width="0.9"/>
<line x1="147.89" y1="498.65" x2="147.89" y2="495.75" stroke="#000" stroke-width="0.9"/>
<line x1="147.89" y1="366.00" x2="147.89" y2="368.90" stroke="#000" stroke-width="0.9"/>
<line x1="153.81" y1="498.65" x2="153.81" y2="495.75" stroke="#000" stroke-width="0.9"/>
<line x1="153.81" y1="366.00" x2="153.81" y2="368.90" stroke="#000" stroke-width="0.9"/>
<line x1="158.40" y1="498.65" x2="158.40" y2="495.75" stroke="#000" stroke-width="0.9"/>
<line x1="158.40" y1="366.00" x2="158.40" y2="368.90" stroke="#000" stroke-width="0.9"/>
<line x1="162.15" y1="498.65" x2="162.15" y2="495.75" stroke="#000" stroke-width="0.9"/>
<line x1="162.15" y1="366.00" x2="162.15" y2="368.90" stroke="#000" stroke-width="0.9"/>
<line x1="165.32" y1="498.65" x2="165.32" y2="495.75" stroke="#000" stroke-width="0.9"/>
<line x1="165.32" y1="366.00" x2="165.32" y2="368.90" stroke="#000" stroke-width="0.9"/>
<line x1="168.06" y1="498.65" x2="168.06" y2="495.75" stroke="#000" stroke-width="0.9"/>
<line x1="168.06" y1="366.00" x2="168.06" y2="368.90" stroke="#000" stroke-width="0.9"/>
<line x1="170.48" y1="498.65" x2="170.48" y2="495.75" stroke="#000" stroke-width="0.9"/>
<line x1="170.48" y1="366.00" x2="170.48" y2="368.90" stroke="#000" stroke-width="0.9"/>
<line x1="172.65" y1="498.65" x2="172.65" y2="493.05" stroke="#000" stroke-width="0.9"/>
<line x1="172.65" y1="366.00" x2="172.65" y2="371.60" stroke="#000" stroke-width="0.9"/>
<line x1="186.90" y1="498.65" x2="186.90" y2="495.75" stroke="#000" stroke-width="0.9"/>
<line x1="186.90" y1="366.00" x2="186.90" y2="368.90" stroke="#000" stroke-width="0.9"/>
<line x1="195.24" y1="498.65" x2="195.24" y2="495.75" stroke="#000" stroke-width="0.9"/>
<line x1="195.24" y1="366.00" x2="195.24" y2="368.90" stroke="#000" stroke-width="0.9"/>
<line x1="201.16" y1="498.65" x2="201.16" y2="495.75" stroke="#000" stroke-width="0.9"/>
<line x1="201.16" y1="366.00" x2="201.16" y2="368.90" stroke="#000" stroke-width="0.9"/>
<line x1="205.75" y1="498.65" x2="205.75" y2="495.75" stroke="#000" stroke-width="0.9"/>
<line x1="205.75" y1="366.00" x2="205.75" y2="368.90" stroke="#000" stroke-width="0.9"/>
<line x1="209.50" y1="498.65" x2="209.50" y2="495.75" stroke="#000" stroke-width="0.9"/>
<line x1="209.50" y1="366.00" x2="209.50" y2="368.90" stroke="#000" stroke-width="0.9"/>
<line x1="212.67" y1="498.65" x2="212.67" y2="495.75" stroke="#000" stroke-width="0.9"/>
<line x1="212.67" y1="366.00" x2="212.67" y2="368.90" stroke="#000" stroke-width="0.9"/>
<line x1="215.41" y1="498.65" x2="215.41" y2="495.75" stroke="#000" stroke-width="0.9"/>
<line x1="215.41" y1="366.00" x2="215.41" y2="368.90" stroke="#000" stroke-width="0.9"/>
<line x1="217.83" y1="498.65" x2="217.83" y2="495.75" stroke="#000" stroke-width="0.9"/>
<line x1="217.83" y1="366.00" x2="217.83" y2="368.90" stroke="#000" stroke-width="0.9"/>
<line x1="30.60" y1="490.36" x2="33.50" y2="490.36" stroke="#000" stroke-width="0.9"/>
<line x1="220.00" y1="490.36" x2="217.10" y2="490.36" stroke="#000" stroke-width="0.9"/>
<line x1="30.60" y1="482.07" x2="36.20" y2="482.07" stroke="#000" stroke-width="0.9"/>
<line x1="220.00" y1="482.07" x2="214.40" y2="482.07" stroke="#000" stroke-width="0.9"/>
<line x1="30.60" y1="473.78" x2="33.50" y2="473.78" stroke="#000" stroke-width="0.9"/>
<line x1="220.00" y1="473.78" x2="217.10" y2="473.78" stroke="#000" stroke-width="0.9"/>
<line x1="30.60" y1="465.49" x2="33.50" y2="465.49" stroke="#000" stroke-width="0.9"/>
<line x1="220.00" y1="465.49" x2="217.10" y2="465.49" stroke="#000" stroke-width="0.9"/>
<line x1="30.60" y1="457.20" x2="33.50" y2="457.20" stroke="#000" stroke-width="0.9"/>
<line x1="220.00" y1="457.20" x2="217.10" y2="457.20" stroke="#000" stroke-width="0.9"/>
<line x1="30.60" y1="448.91" x2="33.50" y2="448.91" stroke="#000" stroke-width="0.9"/>
<line x1="220.00" y1="448.91" x2="217.10" y2="448.91" stroke="#000" stroke-width="0.9"/>
<line x1="30.60" y1="440.62" x2="36.20" y2="440.62" stroke="#000" stroke-width="0.9"/>
<line x1="220.00" y1="440.62" x2="214.40" y2="440.62" stroke="#000" stroke-width="0.9"/>
<line x1="30.60" y1="432.32" x2="33.50" y2="432.32" stroke="#000" stroke-width="0.9"/>
<line x1="220.00" y1="432.32" x2="217.10" y2="432.32" stroke="#000" stroke-width="0.9"/>
<line x1="30.60" y1="424.03" x2="33.50" y2="424.03" stroke="#000" stroke-width="0.9"/>
<line x1="220.00" y1="424.03" x2="217.10" y2="424.03" stroke="#000" stroke-width="0.9"/>
<line x1="30.60" y1="415.74" x2="33.50" y2="415.74" stroke="#000" stroke-width="0.9"/>
<line x1="220.00" y1="415.74" x2="217.10" y2="415.74" stroke="#000" stroke-width="0.9"/>
<line x1="30.60" y1="407.45" x2="33.50" y2="407.45" stroke="#000" stroke-width="0.9"/>
<line x1="220.00" y1="407.45" x2="217.10" y2="407.45" stroke="#000" stroke-width="0.9"/>
<line x1="30.60" y1="399.16" x2="36.20" y2="399.16" stroke="#000" stroke-width="0.9"/>
<line x1="220.00" y1="399.16" x2="214.40" y2="399.16" stroke="#000" stroke-width="0.9"/>
<line x1="30.60" y1="390.87" x2="33.50" y2="390.87" stroke="#000" stroke-width="0.9"/>
<line x1="220.00" y1="390.87" x2="217.10" y2="390.87" stroke="#000" stroke-width="0.9"/>
<line x1="30.60" y1="382.58" x2="33.50" y2="382.58" stroke="#000" stroke-width="0.9"/>
<line x1="220.00" y1="382.58" x2="217.10" y2="382.58" stroke="#000" stroke-width="0.9"/>
<line x1="30.60" y1="374.29" x2="33.50" y2="374.29" stroke="#000" stroke-width="0.9"/>
<line x1="220.00" y1="374.29" x2="217.10" y2="374.29" stroke="#000" stroke-width="0.9"/>
<text x="25.30" y="485.62" font-size="11" fill="#000" stroke="#000" stroke-width="0.12" text-anchor="end">0</text>
<text x="25.30" y="444.17" font-size="11" fill="#000" stroke="#000" stroke-width="0.12" text-anchor="end">5</text>
<text x="25.30" y="402.71" font-size="11" fill="#000" stroke="#000" stroke-width="0.12" text-anchor="end">10</text>
<text x="22.00" y="516.25" font-size="10.6" fill="#000" stroke="#000" stroke-width="0.12" text-anchor="start">10</text>
<text x="35.60" y="509.15" font-size="8" fill="#000" stroke="#000" stroke-width="0" text-anchor="start">-4</text>
<text x="69.35" y="516.25" font-size="10.6" fill="#000" stroke="#000" stroke-width="0.12" text-anchor="start">10</text>
<text x="82.95" y="509.15" font-size="8" fill="#000" stroke="#000" stroke-width="0" text-anchor="start">-3</text>
<text x="116.70" y="516.25" font-size="10.6" fill="#000" stroke="#000" stroke-width="0.12" text-anchor="start">10</text>
<text x="130.30" y="509.15" font-size="8" fill="#000" stroke="#000" stroke-width="0" text-anchor="start">-2</text>
<text x="164.05" y="516.25" font-size="10.6" fill="#000" stroke="#000" stroke-width="0.12" text-anchor="start">10</text>
<text x="177.65" y="509.15" font-size="8" fill="#000" stroke="#000" stroke-width="0" text-anchor="start">-1</text>
<text x="217.40" y="516.25" font-size="11" fill="#000" stroke="#000" stroke-width="0.12" text-anchor="start">1</text>
<text x="59.35" y="235.10" font-size="16" fill="#000" stroke="#000" stroke-width="0.25" text-anchor="start">xc</text>
<text x="73.50" y="240.10" font-size="11" fill="#000" stroke="#000" stroke-width="0.12" text-anchor="start">L,q</text>
<text x="91.10" y="235.10" font-size="16" fill="#000" stroke="#000" stroke-width="0.25" text-anchor="start">/</text>
<text x="98.80" y="235.10" font-size="16" fill="#000" stroke="#000" stroke-width="0.25" text-anchor="start">a</text>
<text x="106.00" y="240.10" font-size="10.6" fill="#000" stroke="#000" stroke-width="0.12" text-anchor="start">S</text>
<text x="59.35" y="392.30" font-size="16" fill="#000" stroke="#000" stroke-width="0.25" text-anchor="start">xc</text>
<text x="73.50" y="397.30" font-size="11" fill="#000" stroke="#000" stroke-width="0.12" text-anchor="start">L,g</text>
<text x="91.10" y="392.30" font-size="16" fill="#000" stroke="#000" stroke-width="0.25" text-anchor="start">/</text>
<text x="98.80" y="392.30" font-size="16" fill="#000" stroke="#000" stroke-width="0.25" text-anchor="start">a</text>
<text x="106.00" y="397.30" font-size="10.6" fill="#000" stroke="#000" stroke-width="0.12" text-anchor="start">S</text>
<path d="M58.90,258.40 L75.40,258.40" fill="none" stroke="#000" stroke-width="1.15" stroke-linecap="butt" stroke-linejoin="round" stroke-dasharray="1.45 2.1" stroke-dashoffset="0.4"/>
<text x="81.50" y="262.60" font-size="11.45" fill="#000" stroke="#000" stroke-width="0.12" text-anchor="start">LO</text>
<path d="M58.90,274.80 L75.40,274.80" fill="none" stroke="#0000ff" stroke-width="1.15" stroke-linecap="butt" stroke-linejoin="round" stroke-dasharray="3.9 2.6" stroke-dashoffset="0"/>
<text x="81.50" y="279.00" font-size="11.45" fill="#0000ff" stroke="#0000ff" stroke-width="0.12" text-anchor="start">NLO</text>
<path d="M58.90,291.20 L75.40,291.20" fill="none" stroke="#ff0000" stroke-width="1.15" stroke-linecap="butt" stroke-linejoin="round"/>
<text x="81.50" y="295.50" font-size="11.45" fill="#ff0000" stroke="#ff0000" stroke-width="0.12" text-anchor="start">NNLO</text>
<text x="52.00" y="420.20" font-size="11.5" fill="#000" stroke="#000" stroke-width="0.1">α</text>
<text x="58.40" y="424.00" font-size="9" fill="#000" stroke="#000" stroke-width="0.05">S</text>
<text x="66.85" y="420.20" font-size="11.3" fill="#000" stroke="#000" stroke-width="0.1">= 0.2, n</text>
<text x="101.70" y="424.00" font-size="9" fill="#000" stroke="#000" stroke-width="0.05">f</text>
<text x="107.35" y="420.20" font-size="11.3" fill="#000" stroke="#000" stroke-width="0.1">=</text>
<text x="116.00" y="420.20" font-size="11.3" fill="#000" stroke="#000" stroke-width="0.1">4</text>
<path d="M59.00,444.80 L75.00,444.80" fill="none" stroke="#ff00ff" stroke-width="1.3" stroke-linecap="butt" stroke-linejoin="round" stroke-dasharray="4.4 1.2 1.6 1.2" stroke-dashoffset="0"/>
<text x="81.50" y="448.40" font-size="11.3" fill="#ff00ff" stroke="#ff00ff" stroke-width="0.12" text-anchor="start">NNLO, only ln x</text>
<text x="143.60" y="526.60" font-size="16" fill="#000" stroke="#000" stroke-width="0.25" text-anchor="start">x</text>
</svg>
</body></html>
